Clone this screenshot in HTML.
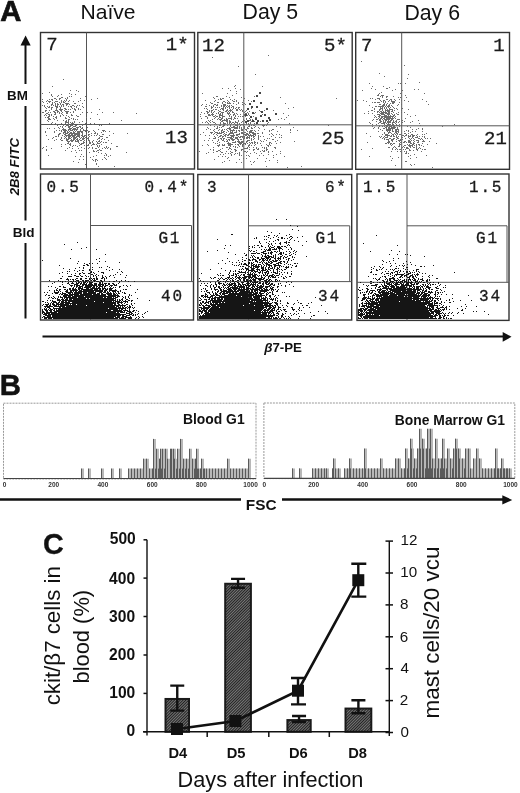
<!DOCTYPE html>
<html><head><meta charset="utf-8"><title>Figure</title>
<style>html,body{margin:0;padding:0;background:#fff;overflow:hidden;width:520px;height:793px;} svg{display:block;}</style></head>
<body><svg width="520" height="793" viewBox="0 0 520 793">
<rect width="520" height="793" fill="#fff"/>
<rect x="40.5" y="32.5" width="154.0" height="136.5" fill="none" stroke="#333" stroke-width="1.4"/>
<rect x="197.8" y="32.5" width="154.4" height="136.7" fill="none" stroke="#333" stroke-width="1.4"/>
<rect x="355.7" y="32.5" width="153.8" height="136.8" fill="none" stroke="#333" stroke-width="1.4"/>
<rect x="40.5" y="174.0" width="153.0" height="146.0" fill="none" stroke="#333" stroke-width="1.4"/>
<rect x="197.8" y="174.5" width="153.9" height="145.5" fill="none" stroke="#333" stroke-width="1.4"/>
<rect x="357.0" y="174.0" width="152.0" height="146.4" fill="none" stroke="#333" stroke-width="1.4"/>
<path d="M86.5 32.5V169.0M40.5 124.5H194.5" stroke="#555" stroke-width="1" fill="none"/>
<path d="M243.8 32.5V169.2M197.8 124.8H352.2" stroke="#555" stroke-width="1" fill="none"/>
<path d="M401.7 32.5V169.3M355.7 125.8H509.5" stroke="#555" stroke-width="1" fill="none"/>
<path d="M90.5 174.0V320.0M90.5 225.5H191.5V281.6M40.5 281.6H193.5" stroke="#555" stroke-width="1" fill="none"/>
<path d="M248.5 174.5V320.0M248.5 225.8H349.7V281.6M197.8 281.6H351.7" stroke="#555" stroke-width="1" fill="none"/>
<path d="M407.0 174.0V320.4M407.0 225.8H507.0V282.3M357.0 282.3H509.0" stroke="#555" stroke-width="1" fill="none"/>
<path d="M63 79h1v1h-1zM52 86h1v1h-1zM70 90h1v1h-1zM76 90h1v1h-1zM78 91h1v1h-1zM49 92h1v1h-1zM42 93h1v1h-1zM69 93h1v1h-1zM51 94h1v1h-1zM61 94h1v1h-1zM71 94h1v1h-1zM75 94h1v1h-1zM51 95h1v1h-1zM58 95h1v1h-1zM52 96h1v1h-1zM57 96h1v1h-1zM69 96h1v1h-1zM71 96h1v1h-1zM85 96h1v1h-1zM61 97h2v1h-2zM67 97h1v1h-1zM54 98h2v1h-2zM59 98h2v1h-2zM65 98h1v1h-1zM67 98h1v1h-1zM80 98h1v1h-1zM97 98h1v1h-1zM42 99h1v1h-1zM49 99h1v1h-1zM51 99h2v1h-2zM56 99h1v1h-1zM59 99h1v1h-1zM66 99h1v1h-1zM91 99h1v1h-1zM47 100h1v1h-1zM52 100h1v1h-1zM61 100h1v1h-1zM64 100h1v1h-1zM66 100h1v1h-1zM69 100h1v1h-1zM80 100h1v1h-1zM84 100h1v1h-1zM42 101h1v1h-1zM46 101h1v1h-1zM48 101h3v1h-3zM55 101h3v1h-3zM61 101h1v1h-1zM63 101h1v1h-1zM65 101h1v1h-1zM68 101h1v1h-1zM73 101h1v1h-1zM78 101h1v1h-1zM43 102h1v1h-1zM49 102h1v1h-1zM52 102h1v1h-1zM54 102h1v1h-1zM59 102h1v1h-1zM61 102h1v1h-1zM63 102h2v1h-2zM47 103h1v1h-1zM52 103h1v1h-1zM55 103h1v1h-1zM57 103h1v1h-1zM60 103h1v1h-1zM65 103h4v1h-4zM74 103h2v1h-2zM82 103h1v1h-1zM51 104h2v1h-2zM55 104h1v1h-1zM57 104h2v1h-2zM60 104h1v1h-1zM62 104h2v1h-2zM66 104h2v1h-2zM69 104h1v1h-1zM42 105h1v1h-1zM44 105h1v1h-1zM51 105h1v1h-1zM53 105h1v1h-1zM55 105h1v1h-1zM57 105h1v1h-1zM61 105h1v1h-1zM63 105h1v1h-1zM66 105h1v1h-1zM72 105h2v1h-2zM77 105h1v1h-1zM79 105h1v1h-1zM44 106h1v1h-1zM47 106h1v1h-1zM49 106h1v1h-1zM55 106h3v1h-3zM59 106h1v1h-1zM61 106h1v1h-1zM63 106h1v1h-1zM68 106h1v1h-1zM70 106h2v1h-2zM74 106h1v1h-1zM76 106h1v1h-1zM82 106h1v1h-1zM45 107h1v1h-1zM48 107h2v1h-2zM51 107h2v1h-2zM56 107h2v1h-2zM60 107h1v1h-1zM71 107h1v1h-1zM76 107h1v1h-1zM83 107h1v1h-1zM46 108h1v1h-1zM51 108h1v1h-1zM56 108h1v1h-1zM60 108h1v1h-1zM64 108h2v1h-2zM72 108h1v1h-1zM74 108h1v1h-1zM78 108h1v1h-1zM51 109h1v1h-1zM56 109h1v1h-1zM59 109h4v1h-4zM65 109h2v1h-2zM68 109h1v1h-1zM70 109h1v1h-1zM74 109h2v1h-2zM78 109h1v1h-1zM80 109h1v1h-1zM99 109h1v1h-1zM45 110h2v1h-2zM49 110h1v1h-1zM55 110h3v1h-3zM60 110h2v1h-2zM64 110h1v1h-1zM75 110h1v1h-1zM45 111h1v1h-1zM53 111h2v1h-2zM57 111h2v1h-2zM61 111h1v1h-1zM65 111h4v1h-4zM73 111h1v1h-1zM42 112h2v1h-2zM48 112h1v1h-1zM50 112h1v1h-1zM54 112h2v1h-2zM57 112h1v1h-1zM59 112h1v1h-1zM62 112h1v1h-1zM66 112h2v1h-2zM70 112h1v1h-1zM73 112h1v1h-1zM82 112h1v1h-1zM87 112h1v1h-1zM91 112h1v1h-1zM102 112h1v1h-1zM113 112h1v1h-1zM46 113h2v1h-2zM55 113h1v1h-1zM59 113h1v1h-1zM61 113h1v1h-1zM66 113h2v1h-2zM136 113h1v1h-1zM45 114h1v1h-1zM48 114h2v1h-2zM51 114h1v1h-1zM54 114h2v1h-2zM62 114h1v1h-1zM71 114h1v1h-1zM80 114h1v1h-1zM97 114h1v1h-1zM44 115h1v1h-1zM46 115h1v1h-1zM49 115h1v1h-1zM51 115h1v1h-1zM60 115h1v1h-1zM63 115h1v1h-1zM66 115h1v1h-1zM71 115h2v1h-2zM76 115h1v1h-1zM48 116h2v1h-2zM53 116h1v1h-1zM56 116h1v1h-1zM60 116h1v1h-1zM68 116h1v1h-1zM77 116h2v1h-2zM45 117h1v1h-1zM47 117h2v1h-2zM55 117h2v1h-2zM65 117h1v1h-1zM69 117h1v1h-1zM86 117h1v1h-1zM48 118h2v1h-2zM53 118h1v1h-1zM56 118h1v1h-1zM65 118h2v1h-2zM71 118h1v1h-1zM73 118h1v1h-1zM90 118h1v1h-1zM48 119h3v1h-3zM54 119h1v1h-1zM68 119h2v1h-2zM73 119h1v1h-1zM75 119h1v1h-1zM77 119h1v1h-1zM99 119h1v1h-1zM47 120h1v1h-1zM57 120h1v1h-1zM63 120h1v1h-1zM66 120h1v1h-1zM68 120h1v1h-1zM121 120h1v1h-1zM48 121h1v1h-1zM65 121h2v1h-2zM68 121h1v1h-1zM74 121h1v1h-1zM82 121h1v1h-1zM86 121h1v1h-1zM52 122h1v1h-1zM65 122h4v1h-4zM70 122h1v1h-1zM72 122h1v1h-1zM74 122h1v1h-1zM79 122h1v1h-1zM51 123h1v1h-1zM55 123h1v1h-1zM61 123h1v1h-1zM65 123h1v1h-1zM68 123h1v1h-1zM71 123h3v1h-3zM85 123h1v1h-1zM90 123h1v1h-1zM94 123h1v1h-1zM109 123h1v1h-1zM53 124h1v1h-1zM56 124h1v1h-1zM63 124h1v1h-1zM66 124h1v1h-1zM68 124h1v1h-1zM71 124h1v1h-1zM73 124h1v1h-1zM78 124h1v1h-1zM82 124h1v1h-1zM92 124h2v1h-2zM57 125h1v1h-1zM63 125h1v1h-1zM66 125h3v1h-3zM70 125h3v1h-3zM75 125h2v1h-2zM82 125h1v1h-1zM99 125h1v1h-1zM101 125h1v1h-1zM60 126h1v1h-1zM62 126h1v1h-1zM65 126h1v1h-1zM68 126h3v1h-3zM73 126h3v1h-3zM79 126h2v1h-2zM58 127h1v1h-1zM62 127h1v1h-1zM68 127h2v1h-2zM72 127h1v1h-1zM76 127h3v1h-3zM80 127h1v1h-1zM82 127h1v1h-1zM87 127h1v1h-1zM47 128h1v1h-1zM49 128h1v1h-1zM54 128h1v1h-1zM59 128h1v1h-1zM63 128h1v1h-1zM69 128h3v1h-3zM73 128h3v1h-3zM77 128h1v1h-1zM81 128h2v1h-2zM62 129h4v1h-4zM68 129h3v1h-3zM72 129h6v1h-6zM80 129h1v1h-1zM83 129h1v1h-1zM98 129h1v1h-1zM56 130h1v1h-1zM59 130h1v1h-1zM61 130h1v1h-1zM63 130h4v1h-4zM68 130h1v1h-1zM70 130h3v1h-3zM74 130h1v1h-1zM76 130h1v1h-1zM80 130h1v1h-1zM83 130h3v1h-3zM87 130h1v1h-1zM93 130h1v1h-1zM102 130h3v1h-3zM45 131h1v1h-1zM54 131h1v1h-1zM61 131h1v1h-1zM64 131h2v1h-2zM67 131h1v1h-1zM69 131h1v1h-1zM73 131h1v1h-1zM75 131h1v1h-1zM77 131h6v1h-6zM85 131h1v1h-1zM88 131h2v1h-2zM94 131h1v1h-1zM103 131h1v1h-1zM105 131h1v1h-1zM109 131h1v1h-1zM45 132h1v1h-1zM54 132h1v1h-1zM63 132h3v1h-3zM67 132h2v1h-2zM70 132h2v1h-2zM73 132h2v1h-2zM77 132h3v1h-3zM81 132h2v1h-2zM88 132h1v1h-1zM95 132h1v1h-1zM101 132h1v1h-1zM59 133h2v1h-2zM63 133h1v1h-1zM65 133h3v1h-3zM69 133h11v1h-11zM82 133h1v1h-1zM91 133h1v1h-1zM94 133h2v1h-2zM97 133h1v1h-1zM113 133h1v1h-1zM127 133h1v1h-1zM58 134h2v1h-2zM64 134h2v1h-2zM68 134h2v1h-2zM71 134h2v1h-2zM74 134h6v1h-6zM82 134h1v1h-1zM86 134h1v1h-1zM88 134h2v1h-2zM97 134h1v1h-1zM102 134h2v1h-2zM46 135h1v1h-1zM58 135h1v1h-1zM62 135h1v1h-1zM65 135h11v1h-11zM77 135h3v1h-3zM81 135h2v1h-2zM84 135h3v1h-3zM88 135h1v1h-1zM91 135h1v1h-1zM94 135h1v1h-1zM96 135h1v1h-1zM99 135h1v1h-1zM109 135h1v1h-1zM55 136h2v1h-2zM58 136h1v1h-1zM64 136h1v1h-1zM66 136h1v1h-1zM68 136h3v1h-3zM72 136h3v1h-3zM76 136h4v1h-4zM82 136h3v1h-3zM89 136h1v1h-1zM100 136h3v1h-3zM53 137h1v1h-1zM61 137h1v1h-1zM65 137h1v1h-1zM68 137h2v1h-2zM71 137h1v1h-1zM73 137h4v1h-4zM79 137h1v1h-1zM81 137h1v1h-1zM83 137h1v1h-1zM85 137h1v1h-1zM88 137h1v1h-1zM99 137h1v1h-1zM106 137h2v1h-2zM52 138h1v1h-1zM61 138h1v1h-1zM64 138h1v1h-1zM66 138h1v1h-1zM68 138h3v1h-3zM73 138h3v1h-3zM77 138h1v1h-1zM80 138h1v1h-1zM82 138h3v1h-3zM86 138h3v1h-3zM98 138h2v1h-2zM102 138h1v1h-1zM48 139h1v1h-1zM56 139h1v1h-1zM60 139h1v1h-1zM66 139h3v1h-3zM71 139h1v1h-1zM73 139h2v1h-2zM76 139h2v1h-2zM79 139h1v1h-1zM82 139h2v1h-2zM88 139h1v1h-1zM97 139h1v1h-1zM101 139h1v1h-1zM104 139h1v1h-1zM54 140h1v1h-1zM61 140h2v1h-2zM66 140h2v1h-2zM70 140h4v1h-4zM75 140h1v1h-1zM77 140h2v1h-2zM80 140h2v1h-2zM84 140h1v1h-1zM88 140h2v1h-2zM93 140h1v1h-1zM99 140h1v1h-1zM108 140h1v1h-1zM67 141h3v1h-3zM71 141h2v1h-2zM75 141h4v1h-4zM83 141h1v1h-1zM89 141h1v1h-1zM92 141h1v1h-1zM96 141h1v1h-1zM98 141h2v1h-2zM101 141h1v1h-1zM68 142h1v1h-1zM78 142h1v1h-1zM83 142h2v1h-2zM89 142h2v1h-2zM92 142h1v1h-1zM97 142h1v1h-1zM100 142h1v1h-1zM103 142h1v1h-1zM105 142h2v1h-2zM67 143h2v1h-2zM70 143h1v1h-1zM79 143h1v1h-1zM81 143h3v1h-3zM86 143h1v1h-1zM89 143h2v1h-2zM93 143h1v1h-1zM97 143h3v1h-3zM111 143h1v1h-1zM61 144h1v1h-1zM65 144h1v1h-1zM69 144h2v1h-2zM80 144h2v1h-2zM86 144h1v1h-1zM88 144h1v1h-1zM92 144h3v1h-3zM96 144h1v1h-1zM101 144h1v1h-1zM70 145h1v1h-1zM73 145h1v1h-1zM75 145h1v1h-1zM79 145h1v1h-1zM84 145h1v1h-1zM87 145h2v1h-2zM91 145h1v1h-1zM97 145h1v1h-1zM99 145h1v1h-1zM46 146h1v1h-1zM61 146h1v1h-1zM72 146h1v1h-1zM77 146h1v1h-1zM97 146h1v1h-1zM99 146h1v1h-1zM106 146h1v1h-1zM116 146h2v1h-2zM43 147h1v1h-1zM69 147h1v1h-1zM81 147h1v1h-1zM89 147h1v1h-1zM92 147h1v1h-1zM98 147h1v1h-1zM104 147h1v1h-1zM106 147h1v1h-1zM108 147h1v1h-1zM42 148h1v1h-1zM51 148h1v1h-1zM67 148h1v1h-1zM72 148h1v1h-1zM78 148h1v1h-1zM84 148h1v1h-1zM88 148h1v1h-1zM92 148h1v1h-1zM95 148h2v1h-2zM102 148h1v1h-1zM105 148h1v1h-1zM107 148h1v1h-1zM110 148h1v1h-1zM46 149h1v1h-1zM99 149h1v1h-1zM110 149h1v1h-1zM46 150h1v1h-1zM65 150h1v1h-1zM75 150h1v1h-1zM79 150h1v1h-1zM81 150h1v1h-1zM93 150h1v1h-1zM97 150h2v1h-2zM100 150h2v1h-2zM71 151h1v1h-1zM93 151h2v1h-2zM96 151h1v1h-1zM76 152h1v1h-1zM89 152h1v1h-1zM98 152h1v1h-1zM126 152h1v1h-1zM101 153h1v1h-1zM105 153h1v1h-1zM81 154h1v1h-1zM106 154h1v1h-1zM48 155h1v1h-1zM96 155h1v1h-1zM104 155h1v1h-1zM106 155h1v1h-1zM110 155h1v1h-1zM75 156h1v1h-1zM80 156h1v1h-1zM83 156h1v1h-1zM93 156h1v1h-1zM108 156h1v1h-1zM90 157h1v1h-1zM104 157h1v1h-1zM105 158h1v1h-1zM79 159h1v1h-1zM83 159h1v1h-1zM92 159h1v1h-1zM95 159h2v1h-2zM102 159h1v1h-1zM106 159h1v1h-1zM93 160h1v1h-1zM95 160h1v1h-1zM97 160h1v1h-1zM73 161h1v1h-1zM95 161h1v1h-1zM78 162h1v1h-1zM96 163h1v1h-1zM85 164h1v1h-1zM96 164h1v1h-1zM98 166h1v1h-1zM114 166h1v1h-1z" fill="#6b6b6b"/>
<path d="M268 55h1v1h-1zM212 57h1v1h-1zM238 66h1v1h-1zM255 74h1v1h-1zM235 85h1v1h-1zM234 86h1v1h-1zM262 86h1v1h-1zM222 88h1v1h-1zM228 88h1v1h-1zM235 88h1v1h-1zM240 89h1v1h-1zM230 90h1v1h-1zM236 91h1v1h-1zM202 93h1v1h-1zM227 93h1v1h-1zM236 93h1v1h-1zM232 95h1v1h-1zM216 96h2v1h-2zM226 96h1v1h-1zM254 96h1v1h-1zM213 97h1v1h-1zM229 97h1v1h-1zM241 97h1v1h-1zM280 97h1v1h-1zM214 98h1v1h-1zM220 98h1v1h-1zM222 98h2v1h-2zM244 98h1v1h-1zM336 98h1v1h-1zM218 99h1v1h-1zM220 99h2v1h-2zM230 99h1v1h-1zM234 99h1v1h-1zM205 100h1v1h-1zM215 100h1v1h-1zM227 100h1v1h-1zM232 100h1v1h-1zM236 100h1v1h-1zM243 100h1v1h-1zM248 100h1v1h-1zM214 101h1v1h-1zM223 101h2v1h-2zM228 101h1v1h-1zM233 101h2v1h-2zM236 101h1v1h-1zM251 101h1v1h-1zM210 102h1v1h-1zM217 102h2v1h-2zM222 102h1v1h-1zM225 102h1v1h-1zM227 102h1v1h-1zM229 102h1v1h-1zM238 102h1v1h-1zM242 102h1v1h-1zM211 103h2v1h-2zM222 103h1v1h-1zM227 103h4v1h-4zM233 103h1v1h-1zM238 103h1v1h-1zM244 103h1v1h-1zM285 103h1v1h-1zM202 104h1v1h-1zM206 104h1v1h-1zM214 104h2v1h-2zM217 104h1v1h-1zM223 104h3v1h-3zM236 104h1v1h-1zM242 104h1v1h-1zM245 104h1v1h-1zM201 105h1v1h-1zM209 105h1v1h-1zM213 105h1v1h-1zM216 105h2v1h-2zM221 105h1v1h-1zM223 105h3v1h-3zM227 105h1v1h-1zM229 105h1v1h-1zM231 105h1v1h-1zM243 105h1v1h-1zM205 106h2v1h-2zM211 106h1v1h-1zM213 106h1v1h-1zM221 106h1v1h-1zM223 106h2v1h-2zM226 106h1v1h-1zM228 106h2v1h-2zM232 106h2v1h-2zM211 107h2v1h-2zM215 107h1v1h-1zM217 107h1v1h-1zM219 107h1v1h-1zM223 107h1v1h-1zM225 107h1v1h-1zM227 107h1v1h-1zM229 107h1v1h-1zM231 107h1v1h-1zM233 107h1v1h-1zM236 107h1v1h-1zM238 107h2v1h-2zM252 107h1v1h-1zM293 107h1v1h-1zM204 108h1v1h-1zM206 108h1v1h-1zM211 108h1v1h-1zM221 108h3v1h-3zM225 108h1v1h-1zM229 108h1v1h-1zM233 108h1v1h-1zM235 108h1v1h-1zM238 108h1v1h-1zM251 108h1v1h-1zM288 108h1v1h-1zM207 109h1v1h-1zM213 109h1v1h-1zM215 109h2v1h-2zM220 109h1v1h-1zM222 109h2v1h-2zM227 109h1v1h-1zM230 109h1v1h-1zM232 109h1v1h-1zM236 109h2v1h-2zM239 109h1v1h-1zM241 109h1v1h-1zM247 109h2v1h-2zM209 110h1v1h-1zM211 110h2v1h-2zM218 110h1v1h-1zM223 110h1v1h-1zM226 110h2v1h-2zM229 110h3v1h-3zM236 110h2v1h-2zM240 110h1v1h-1zM242 110h1v1h-1zM246 110h1v1h-1zM259 110h1v1h-1zM264 110h1v1h-1zM273 110h1v1h-1zM206 111h2v1h-2zM209 111h1v1h-1zM211 111h1v1h-1zM214 111h1v1h-1zM219 111h2v1h-2zM225 111h2v1h-2zM228 111h1v1h-1zM230 111h1v1h-1zM232 111h1v1h-1zM242 111h1v1h-1zM245 111h1v1h-1zM249 111h1v1h-1zM260 111h1v1h-1zM201 112h1v1h-1zM207 112h2v1h-2zM211 112h1v1h-1zM213 112h1v1h-1zM218 112h1v1h-1zM221 112h3v1h-3zM227 112h1v1h-1zM229 112h1v1h-1zM232 112h2v1h-2zM244 112h1v1h-1zM247 112h1v1h-1zM255 112h1v1h-1zM204 113h1v1h-1zM207 113h1v1h-1zM212 113h1v1h-1zM216 113h1v1h-1zM218 113h1v1h-1zM220 113h1v1h-1zM222 113h1v1h-1zM227 113h3v1h-3zM234 113h1v1h-1zM236 113h1v1h-1zM245 113h2v1h-2zM248 113h1v1h-1zM254 113h1v1h-1zM283 113h1v1h-1zM200 114h1v1h-1zM208 114h2v1h-2zM211 114h3v1h-3zM219 114h2v1h-2zM222 114h1v1h-1zM228 114h1v1h-1zM230 114h1v1h-1zM233 114h2v1h-2zM237 114h1v1h-1zM240 114h1v1h-1zM244 114h1v1h-1zM248 114h1v1h-1zM262 114h1v1h-1zM208 115h3v1h-3zM212 115h1v1h-1zM215 115h1v1h-1zM219 115h4v1h-4zM229 115h1v1h-1zM233 115h1v1h-1zM235 115h1v1h-1zM244 115h1v1h-1zM247 115h1v1h-1zM249 115h1v1h-1zM288 115h1v1h-1zM200 116h1v1h-1zM205 116h2v1h-2zM213 116h2v1h-2zM216 116h2v1h-2zM219 116h1v1h-1zM222 116h3v1h-3zM229 116h1v1h-1zM231 116h1v1h-1zM235 116h1v1h-1zM238 116h1v1h-1zM240 116h1v1h-1zM242 116h2v1h-2zM245 116h1v1h-1zM251 116h1v1h-1zM253 116h1v1h-1zM207 117h1v1h-1zM215 117h1v1h-1zM219 117h2v1h-2zM222 117h1v1h-1zM231 117h1v1h-1zM234 117h1v1h-1zM255 117h2v1h-2zM286 117h1v1h-1zM201 118h1v1h-1zM207 118h1v1h-1zM214 118h1v1h-1zM218 118h1v1h-1zM221 118h2v1h-2zM226 118h1v1h-1zM228 118h4v1h-4zM234 118h2v1h-2zM237 118h1v1h-1zM246 118h1v1h-1zM249 118h1v1h-1zM256 118h1v1h-1zM281 118h1v1h-1zM212 119h1v1h-1zM217 119h1v1h-1zM219 119h3v1h-3zM224 119h1v1h-1zM226 119h2v1h-2zM231 119h1v1h-1zM233 119h1v1h-1zM243 119h1v1h-1zM246 119h1v1h-1zM250 119h1v1h-1zM252 119h1v1h-1zM269 119h1v1h-1zM278 119h1v1h-1zM284 119h1v1h-1zM208 120h1v1h-1zM210 120h1v1h-1zM220 120h1v1h-1zM222 120h6v1h-6zM229 120h1v1h-1zM238 120h1v1h-1zM244 120h1v1h-1zM247 120h1v1h-1zM249 120h2v1h-2zM257 120h1v1h-1zM206 121h1v1h-1zM209 121h1v1h-1zM212 121h1v1h-1zM221 121h2v1h-2zM226 121h2v1h-2zM229 121h2v1h-2zM235 121h1v1h-1zM238 121h1v1h-1zM242 121h1v1h-1zM248 121h1v1h-1zM251 121h1v1h-1zM254 121h1v1h-1zM257 121h1v1h-1zM260 121h1v1h-1zM202 122h1v1h-1zM205 122h1v1h-1zM207 122h1v1h-1zM210 122h1v1h-1zM213 122h2v1h-2zM220 122h1v1h-1zM223 122h1v1h-1zM227 122h1v1h-1zM229 122h2v1h-2zM232 122h2v1h-2zM235 122h3v1h-3zM241 122h1v1h-1zM245 122h1v1h-1zM250 122h1v1h-1zM268 122h1v1h-1zM208 123h1v1h-1zM215 123h1v1h-1zM220 123h1v1h-1zM223 123h3v1h-3zM227 123h1v1h-1zM229 123h1v1h-1zM231 123h1v1h-1zM234 123h1v1h-1zM237 123h1v1h-1zM239 123h1v1h-1zM246 123h1v1h-1zM248 123h1v1h-1zM250 123h1v1h-1zM254 123h1v1h-1zM267 123h1v1h-1zM289 123h1v1h-1zM200 124h1v1h-1zM214 124h1v1h-1zM216 124h1v1h-1zM220 124h1v1h-1zM223 124h2v1h-2zM230 124h1v1h-1zM233 124h1v1h-1zM235 124h1v1h-1zM237 124h1v1h-1zM239 124h1v1h-1zM241 124h2v1h-2zM244 124h1v1h-1zM246 124h1v1h-1zM248 124h2v1h-2zM256 124h1v1h-1zM258 124h1v1h-1zM267 124h1v1h-1zM210 125h1v1h-1zM219 125h2v1h-2zM223 125h2v1h-2zM227 125h1v1h-1zM230 125h1v1h-1zM235 125h3v1h-3zM240 125h1v1h-1zM243 125h1v1h-1zM249 125h1v1h-1zM251 125h1v1h-1zM253 125h2v1h-2zM262 125h3v1h-3zM266 125h1v1h-1zM328 125h1v1h-1zM214 126h1v1h-1zM217 126h1v1h-1zM222 126h2v1h-2zM230 126h1v1h-1zM233 126h2v1h-2zM237 126h1v1h-1zM239 126h1v1h-1zM244 126h1v1h-1zM248 126h2v1h-2zM255 126h1v1h-1zM263 126h1v1h-1zM276 126h1v1h-1zM207 127h1v1h-1zM217 127h1v1h-1zM219 127h1v1h-1zM221 127h1v1h-1zM229 127h1v1h-1zM231 127h7v1h-7zM239 127h1v1h-1zM241 127h1v1h-1zM244 127h1v1h-1zM247 127h1v1h-1zM251 127h1v1h-1zM254 127h1v1h-1zM258 127h1v1h-1zM280 127h1v1h-1zM293 127h1v1h-1zM208 128h1v1h-1zM216 128h2v1h-2zM227 128h4v1h-4zM234 128h4v1h-4zM239 128h1v1h-1zM241 128h1v1h-1zM244 128h1v1h-1zM247 128h2v1h-2zM251 128h2v1h-2zM259 128h1v1h-1zM206 129h1v1h-1zM210 129h1v1h-1zM214 129h1v1h-1zM219 129h1v1h-1zM222 129h1v1h-1zM224 129h1v1h-1zM226 129h1v1h-1zM229 129h2v1h-2zM233 129h1v1h-1zM241 129h2v1h-2zM245 129h2v1h-2zM264 129h1v1h-1zM272 129h2v1h-2zM290 129h1v1h-1zM213 130h1v1h-1zM218 130h1v1h-1zM221 130h2v1h-2zM227 130h1v1h-1zM230 130h5v1h-5zM236 130h1v1h-1zM238 130h2v1h-2zM241 130h2v1h-2zM246 130h1v1h-1zM250 130h3v1h-3zM254 130h1v1h-1zM258 130h1v1h-1zM269 130h1v1h-1zM271 130h1v1h-1zM290 130h1v1h-1zM297 130h1v1h-1zM214 131h1v1h-1zM221 131h1v1h-1zM223 131h2v1h-2zM228 131h1v1h-1zM230 131h1v1h-1zM232 131h1v1h-1zM236 131h1v1h-1zM239 131h1v1h-1zM247 131h1v1h-1zM249 131h3v1h-3zM255 131h1v1h-1zM269 131h1v1h-1zM277 131h1v1h-1zM203 132h1v1h-1zM210 132h3v1h-3zM215 132h3v1h-3zM219 132h1v1h-1zM221 132h3v1h-3zM226 132h1v1h-1zM230 132h3v1h-3zM234 132h3v1h-3zM241 132h2v1h-2zM244 132h2v1h-2zM249 132h5v1h-5zM262 132h1v1h-1zM290 132h1v1h-1zM211 133h1v1h-1zM214 133h1v1h-1zM217 133h5v1h-5zM224 133h1v1h-1zM229 133h5v1h-5zM239 133h1v1h-1zM241 133h3v1h-3zM246 133h2v1h-2zM249 133h1v1h-1zM252 133h4v1h-4zM257 133h2v1h-2zM262 133h1v1h-1zM271 133h1v1h-1zM200 134h1v1h-1zM213 134h1v1h-1zM216 134h1v1h-1zM223 134h1v1h-1zM225 134h2v1h-2zM228 134h2v1h-2zM233 134h1v1h-1zM236 134h4v1h-4zM243 134h6v1h-6zM250 134h1v1h-1zM253 134h3v1h-3zM269 134h1v1h-1zM272 134h1v1h-1zM276 134h1v1h-1zM279 134h1v1h-1zM205 135h1v1h-1zM209 135h1v1h-1zM217 135h1v1h-1zM220 135h2v1h-2zM224 135h2v1h-2zM227 135h2v1h-2zM230 135h5v1h-5zM236 135h2v1h-2zM245 135h2v1h-2zM248 135h6v1h-6zM255 135h1v1h-1zM258 135h1v1h-1zM273 135h1v1h-1zM281 135h1v1h-1zM214 136h1v1h-1zM219 136h2v1h-2zM222 136h2v1h-2zM225 136h1v1h-1zM231 136h3v1h-3zM238 136h1v1h-1zM240 136h5v1h-5zM247 136h1v1h-1zM249 136h1v1h-1zM251 136h1v1h-1zM253 136h2v1h-2zM258 136h1v1h-1zM260 136h1v1h-1zM263 136h1v1h-1zM271 136h1v1h-1zM215 137h1v1h-1zM218 137h1v1h-1zM222 137h1v1h-1zM227 137h5v1h-5zM233 137h1v1h-1zM235 137h3v1h-3zM239 137h2v1h-2zM242 137h1v1h-1zM244 137h1v1h-1zM246 137h4v1h-4zM253 137h1v1h-1zM258 137h1v1h-1zM275 137h1v1h-1zM279 137h1v1h-1zM281 137h1v1h-1zM209 138h1v1h-1zM213 138h3v1h-3zM220 138h2v1h-2zM223 138h2v1h-2zM230 138h3v1h-3zM235 138h3v1h-3zM243 138h2v1h-2zM246 138h2v1h-2zM249 138h1v1h-1zM251 138h1v1h-1zM254 138h1v1h-1zM258 138h1v1h-1zM267 138h1v1h-1zM269 138h1v1h-1zM218 139h1v1h-1zM221 139h1v1h-1zM223 139h1v1h-1zM226 139h1v1h-1zM228 139h2v1h-2zM231 139h4v1h-4zM237 139h2v1h-2zM240 139h2v1h-2zM243 139h1v1h-1zM251 139h1v1h-1zM253 139h1v1h-1zM258 139h1v1h-1zM264 139h1v1h-1zM272 139h2v1h-2zM204 140h1v1h-1zM208 140h1v1h-1zM212 140h1v1h-1zM218 140h1v1h-1zM222 140h2v1h-2zM227 140h1v1h-1zM229 140h1v1h-1zM232 140h2v1h-2zM238 140h1v1h-1zM247 140h3v1h-3zM251 140h1v1h-1zM260 140h1v1h-1zM266 140h1v1h-1zM277 140h1v1h-1zM217 141h1v1h-1zM224 141h1v1h-1zM226 141h2v1h-2zM235 141h1v1h-1zM237 141h3v1h-3zM241 141h3v1h-3zM246 141h2v1h-2zM254 141h1v1h-1zM261 141h1v1h-1zM263 141h1v1h-1zM275 141h1v1h-1zM294 141h1v1h-1zM213 142h1v1h-1zM219 142h1v1h-1zM228 142h1v1h-1zM232 142h4v1h-4zM238 142h5v1h-5zM246 142h1v1h-1zM249 142h1v1h-1zM251 142h2v1h-2zM254 142h2v1h-2zM257 142h1v1h-1zM269 142h2v1h-2zM280 142h1v1h-1zM215 143h1v1h-1zM217 143h1v1h-1zM227 143h4v1h-4zM239 143h3v1h-3zM243 143h3v1h-3zM247 143h1v1h-1zM250 143h1v1h-1zM252 143h1v1h-1zM254 143h1v1h-1zM257 143h1v1h-1zM260 143h1v1h-1zM269 143h1v1h-1zM271 143h1v1h-1zM276 143h1v1h-1zM207 144h1v1h-1zM219 144h1v1h-1zM222 144h1v1h-1zM224 144h1v1h-1zM228 144h5v1h-5zM235 144h1v1h-1zM237 144h2v1h-2zM240 144h1v1h-1zM242 144h2v1h-2zM245 144h1v1h-1zM249 144h1v1h-1zM255 144h1v1h-1zM266 144h1v1h-1zM269 144h1v1h-1zM202 145h1v1h-1zM208 145h1v1h-1zM217 145h3v1h-3zM222 145h3v1h-3zM228 145h3v1h-3zM238 145h1v1h-1zM242 145h1v1h-1zM248 145h2v1h-2zM251 145h1v1h-1zM254 145h1v1h-1zM261 145h1v1h-1zM267 145h2v1h-2zM270 145h1v1h-1zM218 146h1v1h-1zM230 146h1v1h-1zM233 146h1v1h-1zM235 146h1v1h-1zM239 146h1v1h-1zM242 146h1v1h-1zM248 146h1v1h-1zM268 146h1v1h-1zM213 147h1v1h-1zM226 147h2v1h-2zM229 147h1v1h-1zM235 147h1v1h-1zM237 147h1v1h-1zM247 147h1v1h-1zM249 147h1v1h-1zM253 147h1v1h-1zM256 147h1v1h-1zM262 147h1v1h-1zM264 147h1v1h-1zM266 147h1v1h-1zM274 147h2v1h-2zM222 148h1v1h-1zM229 148h2v1h-2zM244 148h4v1h-4zM256 148h1v1h-1zM258 148h1v1h-1zM264 148h1v1h-1zM266 148h1v1h-1zM275 148h1v1h-1zM210 149h1v1h-1zM213 149h1v1h-1zM220 149h1v1h-1zM228 149h1v1h-1zM231 149h1v1h-1zM234 149h2v1h-2zM241 149h2v1h-2zM249 149h1v1h-1zM253 149h2v1h-2zM257 149h2v1h-2zM266 149h2v1h-2zM213 150h1v1h-1zM218 150h2v1h-2zM235 150h2v1h-2zM241 150h1v1h-1zM253 150h1v1h-1zM262 150h1v1h-1zM264 150h1v1h-1zM266 150h1v1h-1zM199 151h1v1h-1zM216 151h2v1h-2zM220 151h1v1h-1zM226 151h1v1h-1zM230 151h1v1h-1zM235 151h1v1h-1zM244 151h2v1h-2zM247 151h1v1h-1zM260 151h1v1h-1zM263 151h2v1h-2zM268 151h1v1h-1zM272 151h1v1h-1zM280 151h1v1h-1zM208 152h1v1h-1zM213 152h1v1h-1zM221 152h2v1h-2zM231 152h2v1h-2zM239 152h1v1h-1zM246 152h1v1h-1zM254 152h1v1h-1zM268 152h1v1h-1zM206 153h1v1h-1zM225 153h1v1h-1zM228 153h1v1h-1zM230 153h1v1h-1zM235 153h1v1h-1zM237 153h1v1h-1zM239 153h1v1h-1zM250 153h1v1h-1zM256 153h1v1h-1zM261 153h1v1h-1zM280 153h1v1h-1zM220 154h1v1h-1zM223 154h1v1h-1zM231 154h1v1h-1zM234 154h1v1h-1zM239 154h1v1h-1zM268 154h1v1h-1zM276 154h1v1h-1zM231 155h1v1h-1zM239 155h1v1h-1zM241 155h1v1h-1zM246 155h1v1h-1zM248 155h1v1h-1zM259 155h1v1h-1zM263 155h1v1h-1zM273 155h1v1h-1zM218 156h1v1h-1zM222 156h1v1h-1zM225 156h1v1h-1zM249 156h1v1h-1zM284 156h1v1h-1zM228 157h1v1h-1zM273 157h1v1h-1zM227 158h1v1h-1zM243 158h1v1h-1zM246 158h1v1h-1zM257 158h1v1h-1zM266 158h1v1h-1zM214 159h1v1h-1zM239 159h1v1h-1zM229 160h1v1h-1zM269 160h1v1h-1zM277 160h1v1h-1zM224 161h1v1h-1zM250 161h1v1h-1zM254 161h1v1h-1zM265 161h1v1h-1zM222 162h1v1h-1zM236 162h1v1h-1zM241 162h1v1h-1zM253 162h1v1h-1zM277 162h1v1h-1zM251 164h1v1h-1zM266 166h1v1h-1zM301 166h1v1h-1zM287 167h1v1h-1z" fill="#6b6b6b"/>
<path d="M361 61h1v1h-1zM404 65h1v1h-1zM379 73h1v1h-1zM408 74h1v1h-1zM384 76h1v1h-1zM407 78h1v1h-1zM419 82h1v1h-1zM369 83h1v1h-1zM398 83h1v1h-1zM400 83h1v1h-1zM405 83h1v1h-1zM372 86h1v1h-1zM383 86h1v1h-1zM389 87h1v1h-1zM371 88h1v1h-1zM386 88h2v1h-2zM375 89h1v1h-1zM395 89h1v1h-1zM414 89h1v1h-1zM418 89h1v1h-1zM362 90h1v1h-1zM392 90h1v1h-1zM402 90h1v1h-1zM381 92h1v1h-1zM379 93h1v1h-1zM400 93h1v1h-1zM424 93h1v1h-1zM378 94h1v1h-1zM377 95h2v1h-2zM381 95h3v1h-3zM401 95h1v1h-1zM405 95h1v1h-1zM380 96h1v1h-1zM382 96h1v1h-1zM386 96h2v1h-2zM393 96h1v1h-1zM382 97h1v1h-1zM386 97h1v1h-1zM398 97h1v1h-1zM400 97h1v1h-1zM406 97h1v1h-1zM370 98h1v1h-1zM372 98h1v1h-1zM377 98h3v1h-3zM375 99h1v1h-1zM379 99h1v1h-1zM386 99h2v1h-2zM390 99h2v1h-2zM394 99h1v1h-1zM399 99h1v1h-1zM422 99h1v1h-1zM357 100h1v1h-1zM363 100h1v1h-1zM380 100h1v1h-1zM383 100h2v1h-2zM389 100h1v1h-1zM391 100h1v1h-1zM395 100h1v1h-1zM401 100h1v1h-1zM404 100h1v1h-1zM366 101h1v1h-1zM381 101h1v1h-1zM383 101h1v1h-1zM385 101h1v1h-1zM388 101h1v1h-1zM391 101h4v1h-4zM408 101h1v1h-1zM426 101h1v1h-1zM372 102h1v1h-1zM374 102h2v1h-2zM377 102h3v1h-3zM383 102h1v1h-1zM385 102h1v1h-1zM392 102h3v1h-3zM399 102h1v1h-1zM384 103h1v1h-1zM387 103h1v1h-1zM390 103h1v1h-1zM392 103h2v1h-2zM379 104h2v1h-2zM383 104h2v1h-2zM386 104h1v1h-1zM389 104h1v1h-1zM398 104h1v1h-1zM401 104h1v1h-1zM428 104h1v1h-1zM369 105h1v1h-1zM382 105h3v1h-3zM386 105h1v1h-1zM388 105h2v1h-2zM391 105h1v1h-1zM397 105h1v1h-1zM375 106h2v1h-2zM378 106h6v1h-6zM385 106h1v1h-1zM387 106h3v1h-3zM392 106h1v1h-1zM372 107h1v1h-1zM380 107h1v1h-1zM382 107h1v1h-1zM384 107h1v1h-1zM386 107h1v1h-1zM388 107h1v1h-1zM390 107h1v1h-1zM393 107h1v1h-1zM374 108h1v1h-1zM380 108h3v1h-3zM384 108h1v1h-1zM386 108h1v1h-1zM389 108h1v1h-1zM394 108h1v1h-1zM396 108h1v1h-1zM402 108h1v1h-1zM374 109h1v1h-1zM379 109h2v1h-2zM382 109h1v1h-1zM385 109h1v1h-1zM387 109h1v1h-1zM389 109h4v1h-4zM397 109h1v1h-1zM408 109h1v1h-1zM371 110h2v1h-2zM379 110h1v1h-1zM382 110h1v1h-1zM385 110h5v1h-5zM392 110h1v1h-1zM394 110h1v1h-1zM401 110h1v1h-1zM368 111h1v1h-1zM374 111h1v1h-1zM377 111h2v1h-2zM380 111h2v1h-2zM383 111h1v1h-1zM385 111h1v1h-1zM387 111h3v1h-3zM391 111h2v1h-2zM377 112h1v1h-1zM379 112h1v1h-1zM381 112h6v1h-6zM388 112h2v1h-2zM393 112h1v1h-1zM398 112h1v1h-1zM401 112h1v1h-1zM404 112h1v1h-1zM364 113h1v1h-1zM368 113h1v1h-1zM372 113h1v1h-1zM380 113h4v1h-4zM385 113h5v1h-5zM391 113h1v1h-1zM396 113h1v1h-1zM377 114h3v1h-3zM381 114h4v1h-4zM387 114h3v1h-3zM392 114h1v1h-1zM394 114h1v1h-1zM397 114h2v1h-2zM407 114h1v1h-1zM374 115h1v1h-1zM379 115h2v1h-2zM384 115h3v1h-3zM388 115h1v1h-1zM390 115h1v1h-1zM393 115h2v1h-2zM415 115h1v1h-1zM375 116h1v1h-1zM378 116h2v1h-2zM381 116h13v1h-13zM395 116h1v1h-1zM410 116h1v1h-1zM374 117h1v1h-1zM376 117h1v1h-1zM379 117h1v1h-1zM381 117h2v1h-2zM384 117h7v1h-7zM392 117h1v1h-1zM394 117h1v1h-1zM378 118h1v1h-1zM380 118h2v1h-2zM383 118h2v1h-2zM386 118h8v1h-8zM395 118h1v1h-1zM405 118h1v1h-1zM373 119h1v1h-1zM376 119h2v1h-2zM379 119h2v1h-2zM382 119h1v1h-1zM384 119h6v1h-6zM391 119h2v1h-2zM397 119h3v1h-3zM372 120h1v1h-1zM379 120h2v1h-2zM383 120h1v1h-1zM385 120h2v1h-2zM388 120h1v1h-1zM390 120h2v1h-2zM393 120h1v1h-1zM396 120h1v1h-1zM402 120h1v1h-1zM418 120h1v1h-1zM376 121h1v1h-1zM380 121h2v1h-2zM383 121h1v1h-1zM385 121h1v1h-1zM387 121h4v1h-4zM393 121h1v1h-1zM395 121h2v1h-2zM399 121h1v1h-1zM404 121h1v1h-1zM412 121h1v1h-1zM369 122h1v1h-1zM379 122h2v1h-2zM383 122h3v1h-3zM387 122h4v1h-4zM392 122h3v1h-3zM396 122h1v1h-1zM398 122h1v1h-1zM402 122h1v1h-1zM410 122h1v1h-1zM370 123h1v1h-1zM378 123h1v1h-1zM381 123h4v1h-4zM386 123h1v1h-1zM388 123h1v1h-1zM392 123h1v1h-1zM395 123h1v1h-1zM419 123h1v1h-1zM372 124h1v1h-1zM376 124h1v1h-1zM384 124h1v1h-1zM387 124h4v1h-4zM392 124h2v1h-2zM396 124h1v1h-1zM399 124h1v1h-1zM454 124h1v1h-1zM379 125h1v1h-1zM385 125h5v1h-5zM391 125h4v1h-4zM396 125h3v1h-3zM420 125h1v1h-1zM372 126h1v1h-1zM379 126h1v1h-1zM382 126h1v1h-1zM384 126h1v1h-1zM386 126h2v1h-2zM389 126h3v1h-3zM393 126h2v1h-2zM399 126h1v1h-1zM407 126h1v1h-1zM442 126h1v1h-1zM374 127h1v1h-1zM378 127h1v1h-1zM385 127h2v1h-2zM388 127h2v1h-2zM391 127h5v1h-5zM397 127h1v1h-1zM401 127h1v1h-1zM410 127h1v1h-1zM373 128h1v1h-1zM378 128h1v1h-1zM383 128h2v1h-2zM386 128h1v1h-1zM388 128h7v1h-7zM397 128h1v1h-1zM418 128h1v1h-1zM422 128h1v1h-1zM380 129h1v1h-1zM386 129h5v1h-5zM392 129h1v1h-1zM395 129h4v1h-4zM412 129h1v1h-1zM416 129h1v1h-1zM422 129h1v1h-1zM382 130h1v1h-1zM386 130h5v1h-5zM392 130h1v1h-1zM395 130h2v1h-2zM398 130h1v1h-1zM406 130h1v1h-1zM408 130h1v1h-1zM378 131h1v1h-1zM387 131h1v1h-1zM389 131h1v1h-1zM392 131h2v1h-2zM395 131h4v1h-4zM404 131h1v1h-1zM408 131h1v1h-1zM412 131h1v1h-1zM415 131h1v1h-1zM422 131h1v1h-1zM384 132h1v1h-1zM388 132h3v1h-3zM395 132h2v1h-2zM398 132h1v1h-1zM410 132h1v1h-1zM366 133h1v1h-1zM384 133h1v1h-1zM388 133h1v1h-1zM391 133h1v1h-1zM394 133h1v1h-1zM396 133h2v1h-2zM404 133h2v1h-2zM408 133h1v1h-1zM426 133h1v1h-1zM382 134h1v1h-1zM385 134h3v1h-3zM392 134h2v1h-2zM395 134h1v1h-1zM397 134h1v1h-1zM399 134h2v1h-2zM406 134h1v1h-1zM411 134h2v1h-2zM417 134h1v1h-1zM422 134h1v1h-1zM424 134h1v1h-1zM385 135h5v1h-5zM391 135h1v1h-1zM393 135h1v1h-1zM396 135h1v1h-1zM402 135h2v1h-2zM405 135h2v1h-2zM408 135h1v1h-1zM410 135h1v1h-1zM412 135h3v1h-3zM416 135h1v1h-1zM370 136h1v1h-1zM379 136h1v1h-1zM381 136h1v1h-1zM384 136h1v1h-1zM387 136h1v1h-1zM390 136h2v1h-2zM393 136h2v1h-2zM396 136h1v1h-1zM398 136h1v1h-1zM401 136h1v1h-1zM404 136h1v1h-1zM408 136h3v1h-3zM412 136h2v1h-2zM417 136h1v1h-1zM419 136h1v1h-1zM422 136h1v1h-1zM424 136h1v1h-1zM380 137h1v1h-1zM383 137h1v1h-1zM385 137h3v1h-3zM396 137h2v1h-2zM401 137h2v1h-2zM408 137h1v1h-1zM412 137h1v1h-1zM415 137h3v1h-3zM424 137h1v1h-1zM382 138h1v1h-1zM384 138h1v1h-1zM389 138h2v1h-2zM393 138h2v1h-2zM397 138h2v1h-2zM405 138h1v1h-1zM409 138h1v1h-1zM411 138h1v1h-1zM413 138h1v1h-1zM418 138h2v1h-2zM421 138h1v1h-1zM425 138h1v1h-1zM427 138h1v1h-1zM430 138h1v1h-1zM384 139h1v1h-1zM386 139h3v1h-3zM391 139h3v1h-3zM396 139h1v1h-1zM400 139h1v1h-1zM402 139h1v1h-1zM410 139h1v1h-1zM414 139h1v1h-1zM420 139h1v1h-1zM422 139h1v1h-1zM388 140h1v1h-1zM391 140h2v1h-2zM398 140h3v1h-3zM408 140h2v1h-2zM411 140h1v1h-1zM413 140h1v1h-1zM416 140h3v1h-3zM423 140h1v1h-1zM388 141h2v1h-2zM392 141h1v1h-1zM396 141h1v1h-1zM399 141h1v1h-1zM404 141h2v1h-2zM408 141h3v1h-3zM414 141h1v1h-1zM418 141h1v1h-1zM422 141h3v1h-3zM429 141h1v1h-1zM367 142h1v1h-1zM387 142h3v1h-3zM400 142h2v1h-2zM403 142h2v1h-2zM406 142h1v1h-1zM408 142h3v1h-3zM413 142h1v1h-1zM417 142h2v1h-2zM385 143h2v1h-2zM388 143h1v1h-1zM390 143h2v1h-2zM393 143h2v1h-2zM399 143h1v1h-1zM410 143h2v1h-2zM413 143h2v1h-2zM422 143h1v1h-1zM436 143h1v1h-1zM390 144h1v1h-1zM392 144h1v1h-1zM399 144h2v1h-2zM407 144h1v1h-1zM409 144h1v1h-1zM412 144h2v1h-2zM416 144h1v1h-1zM418 144h2v1h-2zM427 144h1v1h-1zM391 145h1v1h-1zM399 145h1v1h-1zM404 145h2v1h-2zM408 145h5v1h-5zM414 145h1v1h-1zM416 145h1v1h-1zM419 145h1v1h-1zM421 145h1v1h-1zM394 146h1v1h-1zM398 146h2v1h-2zM403 146h1v1h-1zM409 146h2v1h-2zM412 146h1v1h-1zM416 146h1v1h-1zM423 146h1v1h-1zM388 147h2v1h-2zM393 147h1v1h-1zM395 147h1v1h-1zM402 147h1v1h-1zM404 147h1v1h-1zM406 147h2v1h-2zM410 147h1v1h-1zM413 147h2v1h-2zM416 147h1v1h-1zM419 147h1v1h-1zM372 148h1v1h-1zM392 148h1v1h-1zM396 148h1v1h-1zM401 148h1v1h-1zM406 148h3v1h-3zM416 148h1v1h-1zM418 148h1v1h-1zM420 148h1v1h-1zM361 149h1v1h-1zM392 149h1v1h-1zM395 149h1v1h-1zM397 149h1v1h-1zM399 149h2v1h-2zM403 149h1v1h-1zM405 149h1v1h-1zM409 149h1v1h-1zM416 149h2v1h-2zM422 149h1v1h-1zM424 149h2v1h-2zM409 150h2v1h-2zM413 150h1v1h-1zM417 150h1v1h-1zM391 151h1v1h-1zM397 151h1v1h-1zM400 151h1v1h-1zM404 151h1v1h-1zM406 151h1v1h-1zM421 151h1v1h-1zM401 152h1v1h-1zM406 152h1v1h-1zM405 153h2v1h-2zM408 153h1v1h-1zM414 154h1v1h-1zM410 155h1v1h-1zM426 155h1v1h-1zM369 156h1v1h-1zM390 156h1v1h-1zM408 156h1v1h-1zM398 157h1v1h-1zM416 157h1v1h-1zM392 158h1v1h-1zM410 158h1v1h-1zM391 160h1v1h-1zM405 161h2v1h-2zM410 164h1v1h-1zM414 164h1v1h-1zM395 165h1v1h-1zM411 165h1v1h-1zM432 167h1v1h-1z" fill="#6b6b6b"/>
<path d="M259 92h2v2h-2zM256 95h2v2h-2zM253 100h2v2h-2zM260 102h2v2h-2zM249 103h2v2h-2zM251 106h2v2h-2zM256 106h2v2h-2zM247 108h2v2h-2zM252 112h2v2h-2zM261 111h2v2h-2zM266 108h2v2h-2zM275 113h2v2h-2zM245 114h2v2h-2zM250 116h2v2h-2zM255 118h2v2h-2zM260 115h2v2h-2zM264 114h2v2h-2zM268 117h2v2h-2zM247 120h2v2h-2zM252 120h2v2h-2zM257 120h2v2h-2zM262 120h2v2h-2zM266 120h2v2h-2zM269 119h2v2h-2zM245 121h2v2h-2zM256 122h2v2h-2z" fill="#444"/>
<path d="M77 242h1v1h-1zM64 244h1v1h-1zM86 247h1v1h-1zM81 248h1v1h-1zM71 249h1v1h-1zM96 249h1v1h-1zM105 254h1v1h-1zM70 258h1v1h-1zM99 258h1v1h-1zM96 259h1v1h-1zM42 260h1v1h-1zM78 261h1v1h-1zM99 261h1v1h-1zM105 261h1v1h-1zM119 262h1v1h-1zM77 263h1v1h-1zM84 263h1v1h-1zM89 263h1v1h-1zM92 263h1v1h-1zM97 263h1v1h-1zM86 264h2v1h-2zM59 265h1v1h-1zM83 265h2v1h-2zM87 265h2v1h-2zM107 266h1v1h-1zM79 267h1v1h-1zM83 267h1v1h-1zM92 267h1v1h-1zM99 267h1v1h-1zM101 267h1v1h-1zM109 267h1v1h-1zM63 268h1v1h-1zM75 268h1v1h-1zM83 268h1v1h-1zM69 269h1v1h-1zM89 269h1v1h-1zM92 269h1v1h-1zM106 269h1v1h-1zM112 269h1v1h-1zM119 269h1v1h-1zM74 270h1v1h-1zM79 270h1v1h-1zM82 270h2v1h-2zM89 270h1v1h-1zM109 270h1v1h-1zM67 271h1v1h-1zM69 271h1v1h-1zM77 271h1v1h-1zM91 271h1v1h-1zM98 271h1v1h-1zM121 271h1v1h-1zM62 272h1v1h-1zM82 272h1v1h-1zM90 272h2v1h-2zM93 272h1v1h-1zM101 272h3v1h-3zM117 272h1v1h-1zM122 272h1v1h-1zM59 273h1v1h-1zM67 273h1v1h-1zM75 273h1v1h-1zM79 273h2v1h-2zM83 273h2v1h-2zM88 273h2v1h-2zM94 273h1v1h-1zM103 273h1v1h-1zM71 274h1v1h-1zM79 274h1v1h-1zM91 274h2v1h-2zM96 274h1v1h-1zM115 274h1v1h-1zM120 274h1v1h-1zM74 275h2v1h-2zM80 275h1v1h-1zM85 275h1v1h-1zM93 275h1v1h-1zM95 275h1v1h-1zM98 275h1v1h-1zM102 275h1v1h-1zM110 275h1v1h-1zM113 275h1v1h-1zM126 275h1v1h-1zM62 276h1v1h-1zM68 276h4v1h-4zM76 276h3v1h-3zM81 276h2v1h-2zM86 276h1v1h-1zM88 276h1v1h-1zM93 276h1v1h-1zM96 276h1v1h-1zM102 276h1v1h-1zM105 276h1v1h-1zM109 276h1v1h-1zM90 277h1v1h-1zM96 277h1v1h-1zM102 277h2v1h-2zM106 277h1v1h-1zM114 277h1v1h-1zM125 277h1v1h-1zM60 278h2v1h-2zM67 278h1v1h-1zM76 278h2v1h-2zM80 278h2v1h-2zM85 278h2v1h-2zM89 278h1v1h-1zM91 278h1v1h-1zM93 278h2v1h-2zM96 278h2v1h-2zM101 278h2v1h-2zM104 278h1v1h-1zM106 278h1v1h-1zM66 279h3v1h-3zM70 279h1v1h-1zM72 279h2v1h-2zM75 279h1v1h-1zM80 279h2v1h-2zM89 279h1v1h-1zM92 279h1v1h-1zM94 279h1v1h-1zM96 279h2v1h-2zM104 279h1v1h-1zM49 280h1v1h-1zM58 280h1v1h-1zM68 280h1v1h-1zM73 280h1v1h-1zM76 280h3v1h-3zM82 280h2v1h-2zM85 280h4v1h-4zM91 280h1v1h-1zM93 280h3v1h-3zM100 280h2v1h-2zM104 280h1v1h-1zM116 280h1v1h-1zM121 280h1v1h-1zM125 280h1v1h-1zM60 281h1v1h-1zM62 281h1v1h-1zM65 281h1v1h-1zM70 281h2v1h-2zM73 281h1v1h-1zM75 281h1v1h-1zM78 281h1v1h-1zM80 281h1v1h-1zM83 281h1v1h-1zM85 281h2v1h-2zM89 281h1v1h-1zM94 281h1v1h-1zM96 281h3v1h-3zM101 281h2v1h-2zM109 281h1v1h-1zM113 281h2v1h-2zM119 281h1v1h-1zM128 281h1v1h-1zM134 281h1v1h-1zM54 282h1v1h-1zM62 282h1v1h-1zM68 282h1v1h-1zM72 282h1v1h-1zM76 282h1v1h-1zM78 282h2v1h-2zM81 282h1v1h-1zM83 282h3v1h-3zM87 282h1v1h-1zM89 282h4v1h-4zM99 282h2v1h-2zM102 282h1v1h-1zM119 282h1v1h-1zM52 283h1v1h-1zM67 283h2v1h-2zM71 283h3v1h-3zM76 283h3v1h-3zM80 283h2v1h-2zM83 283h2v1h-2zM86 283h1v1h-1zM89 283h3v1h-3zM94 283h3v1h-3zM99 283h2v1h-2zM102 283h1v1h-1zM104 283h3v1h-3zM108 283h2v1h-2zM112 283h2v1h-2zM118 283h1v1h-1zM62 284h1v1h-1zM69 284h1v1h-1zM74 284h4v1h-4zM80 284h1v1h-1zM82 284h5v1h-5zM88 284h5v1h-5zM94 284h3v1h-3zM98 284h6v1h-6zM105 284h1v1h-1zM108 284h2v1h-2zM113 284h2v1h-2zM116 284h1v1h-1zM70 285h3v1h-3zM74 285h1v1h-1zM76 285h4v1h-4zM82 285h2v1h-2zM85 285h12v1h-12zM98 285h3v1h-3zM102 285h2v1h-2zM105 285h3v1h-3zM110 285h3v1h-3zM114 285h3v1h-3zM123 285h1v1h-1zM126 285h1v1h-1zM130 285h1v1h-1zM48 286h1v1h-1zM51 286h1v1h-1zM59 286h2v1h-2zM63 286h1v1h-1zM71 286h1v1h-1zM74 286h1v1h-1zM76 286h2v1h-2zM79 286h4v1h-4zM85 286h7v1h-7zM93 286h2v1h-2zM96 286h2v1h-2zM99 286h4v1h-4zM104 286h2v1h-2zM109 286h1v1h-1zM111 286h1v1h-1zM119 286h2v1h-2zM127 286h1v1h-1zM55 287h1v1h-1zM63 287h3v1h-3zM73 287h1v1h-1zM76 287h1v1h-1zM78 287h3v1h-3zM82 287h1v1h-1zM84 287h7v1h-7zM92 287h3v1h-3zM96 287h1v1h-1zM98 287h2v1h-2zM102 287h1v1h-1zM104 287h1v1h-1zM110 287h1v1h-1zM113 287h1v1h-1zM115 287h1v1h-1zM119 287h1v1h-1zM57 288h1v1h-1zM69 288h2v1h-2zM72 288h2v1h-2zM75 288h1v1h-1zM78 288h5v1h-5zM86 288h3v1h-3zM91 288h10v1h-10zM102 288h4v1h-4zM107 288h1v1h-1zM109 288h4v1h-4zM56 289h1v1h-1zM59 289h2v1h-2zM64 289h2v1h-2zM67 289h1v1h-1zM69 289h2v1h-2zM72 289h5v1h-5zM78 289h2v1h-2zM81 289h12v1h-12zM94 289h4v1h-4zM99 289h2v1h-2zM102 289h2v1h-2zM105 289h3v1h-3zM109 289h3v1h-3zM115 289h1v1h-1zM123 289h1v1h-1zM125 289h2v1h-2zM137 289h1v1h-1zM49 290h1v1h-1zM54 290h1v1h-1zM56 290h2v1h-2zM59 290h1v1h-1zM66 290h2v1h-2zM70 290h8v1h-8zM79 290h3v1h-3zM83 290h20v1h-20zM104 290h3v1h-3zM109 290h8v1h-8zM120 290h1v1h-1zM54 291h1v1h-1zM58 291h1v1h-1zM60 291h1v1h-1zM65 291h3v1h-3zM70 291h2v1h-2zM73 291h1v1h-1zM75 291h2v1h-2zM78 291h16v1h-16zM95 291h8v1h-8zM104 291h2v1h-2zM107 291h1v1h-1zM109 291h1v1h-1zM112 291h4v1h-4zM117 291h2v1h-2zM120 291h1v1h-1zM44 292h1v1h-1zM47 292h1v1h-1zM54 292h5v1h-5zM62 292h1v1h-1zM66 292h7v1h-7zM74 292h8v1h-8zM83 292h4v1h-4zM88 292h8v1h-8zM99 292h3v1h-3zM103 292h3v1h-3zM107 292h2v1h-2zM110 292h1v1h-1zM113 292h1v1h-1zM115 292h1v1h-1zM118 292h1v1h-1zM122 292h1v1h-1zM124 292h1v1h-1zM135 292h1v1h-1zM52 293h1v1h-1zM55 293h3v1h-3zM60 293h1v1h-1zM62 293h4v1h-4zM68 293h3v1h-3zM72 293h1v1h-1zM74 293h8v1h-8zM83 293h13v1h-13zM97 293h3v1h-3zM101 293h2v1h-2zM106 293h6v1h-6zM113 293h2v1h-2zM116 293h1v1h-1zM118 293h2v1h-2zM124 293h2v1h-2zM46 294h1v1h-1zM59 294h1v1h-1zM61 294h2v1h-2zM64 294h4v1h-4zM69 294h10v1h-10zM80 294h12v1h-12zM93 294h7v1h-7zM101 294h5v1h-5zM107 294h5v1h-5zM113 294h3v1h-3zM117 294h1v1h-1zM129 294h1v1h-1zM45 295h1v1h-1zM48 295h2v1h-2zM63 295h10v1h-10zM74 295h32v1h-32zM108 295h11v1h-11zM129 295h1v1h-1zM131 295h1v1h-1zM53 296h1v1h-1zM58 296h1v1h-1zM60 296h1v1h-1zM63 296h4v1h-4zM68 296h3v1h-3zM72 296h12v1h-12zM85 296h31v1h-31zM117 296h3v1h-3zM122 296h1v1h-1zM125 296h1v1h-1zM128 296h1v1h-1zM49 297h1v1h-1zM51 297h1v1h-1zM54 297h1v1h-1zM58 297h1v1h-1zM60 297h3v1h-3zM64 297h13v1h-13zM78 297h25v1h-25zM104 297h2v1h-2zM107 297h5v1h-5zM113 297h1v1h-1zM115 297h3v1h-3zM123 297h1v1h-1zM125 297h1v1h-1zM128 297h1v1h-1zM48 298h1v1h-1zM52 298h2v1h-2zM55 298h1v1h-1zM57 298h1v1h-1zM62 298h1v1h-1zM64 298h1v1h-1zM66 298h2v1h-2zM69 298h17v1h-17zM87 298h2v1h-2zM90 298h26v1h-26zM122 298h1v1h-1zM125 298h1v1h-1zM129 298h1v1h-1zM137 298h1v1h-1zM57 299h3v1h-3zM61 299h3v1h-3zM65 299h3v1h-3zM69 299h3v1h-3zM73 299h41v1h-41zM115 299h1v1h-1zM117 299h1v1h-1zM119 299h1v1h-1zM121 299h2v1h-2zM126 299h2v1h-2zM47 300h1v1h-1zM50 300h1v1h-1zM52 300h1v1h-1zM57 300h4v1h-4zM62 300h54v1h-54zM117 300h1v1h-1zM119 300h2v1h-2zM122 300h1v1h-1zM125 300h1v1h-1zM128 300h2v1h-2zM131 300h2v1h-2zM149 300h1v1h-1zM42 301h2v1h-2zM52 301h4v1h-4zM59 301h1v1h-1zM61 301h3v1h-3zM65 301h2v1h-2zM68 301h26v1h-26zM95 301h17v1h-17zM113 301h1v1h-1zM115 301h5v1h-5zM121 301h1v1h-1zM123 301h5v1h-5zM131 301h1v1h-1zM45 302h1v1h-1zM47 302h1v1h-1zM51 302h1v1h-1zM53 302h4v1h-4zM58 302h2v1h-2zM61 302h9v1h-9zM72 302h31v1h-31zM104 302h12v1h-12zM117 302h6v1h-6zM125 302h1v1h-1zM127 302h1v1h-1zM48 303h1v1h-1zM50 303h1v1h-1zM52 303h2v1h-2zM56 303h3v1h-3zM60 303h4v1h-4zM65 303h51v1h-51zM117 303h2v1h-2zM121 303h1v1h-1zM124 303h1v1h-1zM131 303h1v1h-1zM134 303h1v1h-1zM43 304h1v1h-1zM45 304h4v1h-4zM50 304h1v1h-1zM52 304h3v1h-3zM56 304h13v1h-13zM70 304h1v1h-1zM72 304h4v1h-4zM77 304h36v1h-36zM114 304h2v1h-2zM118 304h2v1h-2zM122 304h1v1h-1zM126 304h2v1h-2zM131 304h1v1h-1zM42 305h1v1h-1zM46 305h2v1h-2zM49 305h2v1h-2zM53 305h4v1h-4zM58 305h1v1h-1zM60 305h26v1h-26zM87 305h39v1h-39zM129 305h1v1h-1zM132 305h1v1h-1zM44 306h9v1h-9zM54 306h11v1h-11zM66 306h49v1h-49zM116 306h3v1h-3zM120 306h1v1h-1zM122 306h1v1h-1zM124 306h1v1h-1zM127 306h1v1h-1zM129 306h2v1h-2zM45 307h1v1h-1zM47 307h3v1h-3zM53 307h1v1h-1zM59 307h2v1h-2zM62 307h55v1h-55zM118 307h3v1h-3zM122 307h2v1h-2zM125 307h2v1h-2zM128 307h3v1h-3zM132 307h1v1h-1zM134 307h1v1h-1zM44 308h1v1h-1zM46 308h1v1h-1zM49 308h2v1h-2zM53 308h55v1h-55zM109 308h17v1h-17zM127 308h1v1h-1zM129 308h1v1h-1zM133 308h1v1h-1zM42 309h1v1h-1zM44 309h3v1h-3zM48 309h1v1h-1zM50 309h3v1h-3zM54 309h1v1h-1zM56 309h1v1h-1zM58 309h60v1h-60zM119 309h1v1h-1zM121 309h2v1h-2zM125 309h1v1h-1zM129 309h1v1h-1zM42 310h1v1h-1zM45 310h3v1h-3zM49 310h3v1h-3zM53 310h2v1h-2zM56 310h55v1h-55zM113 310h9v1h-9zM123 310h5v1h-5zM129 310h1v1h-1zM133 310h2v1h-2zM136 310h1v1h-1zM42 311h2v1h-2zM46 311h2v1h-2zM50 311h2v1h-2zM54 311h69v1h-69zM124 311h1v1h-1zM127 311h4v1h-4zM132 311h2v1h-2zM138 311h1v1h-1zM147 311h1v1h-1zM42 312h3v1h-3zM46 312h11v1h-11zM58 312h48v1h-48zM107 312h9v1h-9zM117 312h2v1h-2zM120 312h5v1h-5zM126 312h1v1h-1zM129 312h3v1h-3zM135 312h1v1h-1zM145 312h1v1h-1zM42 313h1v1h-1zM44 313h6v1h-6zM51 313h69v1h-69zM126 313h4v1h-4zM131 313h2v1h-2zM138 313h1v1h-1zM144 313h1v1h-1zM43 314h4v1h-4zM48 314h78v1h-78zM129 314h3v1h-3zM133 314h1v1h-1zM135 314h1v1h-1zM137 314h1v1h-1zM142 314h1v1h-1zM45 315h6v1h-6zM52 315h69v1h-69zM122 315h2v1h-2zM126 315h4v1h-4zM132 315h2v1h-2zM135 315h1v1h-1zM43 316h2v1h-2zM47 316h4v1h-4zM52 316h64v1h-64zM117 316h3v1h-3zM122 316h5v1h-5zM130 316h1v1h-1zM138 316h1v1h-1zM142 316h1v1h-1zM42 317h1v1h-1zM44 317h70v1h-70zM115 317h5v1h-5zM121 317h3v1h-3zM125 317h7v1h-7zM136 317h1v1h-1zM139 317h1v1h-1zM143 317h1v1h-1zM44 318h3v1h-3zM48 318h4v1h-4zM53 318h65v1h-65zM119 318h7v1h-7zM128 318h4v1h-4zM135 318h1v1h-1zM138 318h1v1h-1z" fill="#151515"/>
<path d="M276 219h1v1h-1zM286 219h1v1h-1zM290 225h1v1h-1zM297 226h1v1h-1zM292 229h1v1h-1zM298 230h1v1h-1zM267 231h1v1h-1zM271 232h1v1h-1zM279 233h1v1h-1zM231 234h2v1h-2zM289 234h1v1h-1zM268 235h2v1h-2zM274 235h1v1h-1zM277 235h1v1h-1zM286 235h1v1h-1zM264 236h1v1h-1zM266 236h1v1h-1zM276 236h1v1h-1zM290 236h2v1h-2zM302 236h1v1h-1zM256 237h1v1h-1zM268 237h1v1h-1zM273 237h1v1h-1zM278 237h1v1h-1zM281 237h2v1h-2zM289 237h1v1h-1zM292 237h1v1h-1zM297 237h1v1h-1zM254 238h1v1h-1zM256 238h1v1h-1zM270 238h1v1h-1zM281 238h2v1h-2zM284 238h1v1h-1zM287 238h1v1h-1zM291 238h1v1h-1zM217 239h1v1h-1zM264 239h1v1h-1zM266 239h1v1h-1zM277 239h2v1h-2zM290 239h1v1h-1zM275 240h1v1h-1zM278 240h1v1h-1zM289 240h1v1h-1zM294 240h1v1h-1zM259 241h1v1h-1zM269 241h1v1h-1zM273 241h1v1h-1zM286 241h1v1h-1zM298 241h1v1h-1zM306 241h1v1h-1zM259 242h1v1h-1zM266 242h1v1h-1zM280 242h1v1h-1zM284 242h3v1h-3zM288 242h2v1h-2zM260 243h1v1h-1zM268 243h1v1h-1zM271 243h1v1h-1zM275 243h1v1h-1zM279 243h2v1h-2zM286 243h1v1h-1zM269 244h1v1h-1zM271 244h1v1h-1zM280 244h1v1h-1zM288 244h1v1h-1zM225 245h1v1h-1zM230 245h1v1h-1zM254 245h1v1h-1zM257 245h2v1h-2zM261 245h1v1h-1zM268 245h1v1h-1zM272 245h1v1h-1zM287 245h1v1h-1zM289 245h1v1h-1zM302 245h1v1h-1zM249 246h1v1h-1zM252 246h1v1h-1zM261 246h2v1h-2zM268 246h1v1h-1zM270 246h1v1h-1zM274 246h1v1h-1zM277 246h3v1h-3zM281 246h2v1h-2zM284 246h2v1h-2zM252 247h1v1h-1zM254 247h1v1h-1zM259 247h1v1h-1zM265 247h1v1h-1zM269 247h1v1h-1zM271 247h3v1h-3zM277 247h4v1h-4zM286 247h1v1h-1zM290 247h1v1h-1zM224 248h1v1h-1zM249 248h1v1h-1zM269 248h2v1h-2zM274 248h1v1h-1zM276 248h1v1h-1zM278 248h4v1h-4zM291 248h1v1h-1zM261 249h1v1h-1zM264 249h1v1h-1zM266 249h1v1h-1zM268 249h3v1h-3zM272 249h5v1h-5zM279 249h1v1h-1zM282 249h1v1h-1zM288 249h1v1h-1zM291 249h1v1h-1zM217 250h1v1h-1zM249 250h1v1h-1zM251 250h1v1h-1zM256 250h1v1h-1zM265 250h1v1h-1zM267 250h4v1h-4zM279 250h1v1h-1zM294 250h1v1h-1zM207 251h1v1h-1zM250 251h1v1h-1zM253 251h2v1h-2zM263 251h3v1h-3zM271 251h1v1h-1zM274 251h2v1h-2zM277 251h1v1h-1zM279 251h1v1h-1zM286 251h1v1h-1zM289 251h1v1h-1zM293 251h1v1h-1zM296 251h1v1h-1zM228 252h1v1h-1zM256 252h1v1h-1zM261 252h3v1h-3zM268 252h1v1h-1zM270 252h3v1h-3zM276 252h1v1h-1zM280 252h2v1h-2zM283 252h1v1h-1zM290 252h1v1h-1zM295 252h1v1h-1zM244 253h1v1h-1zM251 253h5v1h-5zM257 253h3v1h-3zM263 253h4v1h-4zM268 253h1v1h-1zM270 253h2v1h-2zM279 253h3v1h-3zM283 253h1v1h-1zM289 253h1v1h-1zM293 253h1v1h-1zM235 254h1v1h-1zM246 254h1v1h-1zM261 254h1v1h-1zM265 254h1v1h-1zM271 254h1v1h-1zM275 254h1v1h-1zM278 254h1v1h-1zM280 254h2v1h-2zM285 254h2v1h-2zM291 254h1v1h-1zM295 254h1v1h-1zM245 255h2v1h-2zM251 255h1v1h-1zM253 255h1v1h-1zM262 255h1v1h-1zM265 255h1v1h-1zM267 255h2v1h-2zM273 255h1v1h-1zM275 255h1v1h-1zM282 255h1v1h-1zM289 255h2v1h-2zM252 256h1v1h-1zM254 256h1v1h-1zM262 256h1v1h-1zM264 256h3v1h-3zM268 256h4v1h-4zM273 256h1v1h-1zM275 256h1v1h-1zM280 256h2v1h-2zM284 256h1v1h-1zM287 256h1v1h-1zM292 256h1v1h-1zM306 256h1v1h-1zM242 257h1v1h-1zM250 257h1v1h-1zM252 257h1v1h-1zM255 257h1v1h-1zM257 257h2v1h-2zM261 257h1v1h-1zM265 257h5v1h-5zM271 257h3v1h-3zM275 257h1v1h-1zM278 257h1v1h-1zM280 257h1v1h-1zM283 257h1v1h-1zM285 257h2v1h-2zM292 257h1v1h-1zM294 257h1v1h-1zM227 258h1v1h-1zM246 258h1v1h-1zM253 258h1v1h-1zM257 258h2v1h-2zM261 258h4v1h-4zM266 258h3v1h-3zM270 258h1v1h-1zM274 258h2v1h-2zM277 258h4v1h-4zM283 258h1v1h-1zM288 258h2v1h-2zM242 259h1v1h-1zM248 259h2v1h-2zM252 259h4v1h-4zM259 259h2v1h-2zM262 259h2v1h-2zM265 259h1v1h-1zM267 259h1v1h-1zM269 259h2v1h-2zM275 259h1v1h-1zM278 259h1v1h-1zM280 259h1v1h-1zM286 259h1v1h-1zM288 259h1v1h-1zM293 259h1v1h-1zM222 260h1v1h-1zM238 260h1v1h-1zM244 260h2v1h-2zM249 260h2v1h-2zM252 260h1v1h-1zM255 260h2v1h-2zM259 260h1v1h-1zM262 260h3v1h-3zM266 260h2v1h-2zM269 260h1v1h-1zM272 260h2v1h-2zM275 260h3v1h-3zM279 260h1v1h-1zM288 260h1v1h-1zM291 260h1v1h-1zM229 261h1v1h-1zM242 261h1v1h-1zM255 261h3v1h-3zM261 261h1v1h-1zM263 261h1v1h-1zM268 261h1v1h-1zM270 261h2v1h-2zM273 261h4v1h-4zM280 261h2v1h-2zM283 261h2v1h-2zM287 261h1v1h-1zM232 262h1v1h-1zM236 262h1v1h-1zM239 262h1v1h-1zM248 262h2v1h-2zM251 262h1v1h-1zM253 262h1v1h-1zM257 262h1v1h-1zM259 262h2v1h-2zM262 262h1v1h-1zM264 262h1v1h-1zM266 262h1v1h-1zM268 262h2v1h-2zM271 262h2v1h-2zM278 262h3v1h-3zM284 262h1v1h-1zM287 262h1v1h-1zM218 263h1v1h-1zM225 263h1v1h-1zM241 263h1v1h-1zM244 263h2v1h-2zM248 263h2v1h-2zM251 263h2v1h-2zM262 263h1v1h-1zM265 263h3v1h-3zM270 263h2v1h-2zM276 263h3v1h-3zM280 263h2v1h-2zM286 263h1v1h-1zM294 263h2v1h-2zM297 263h1v1h-1zM232 264h1v1h-1zM239 264h1v1h-1zM241 264h1v1h-1zM243 264h4v1h-4zM248 264h1v1h-1zM251 264h1v1h-1zM253 264h2v1h-2zM256 264h1v1h-1zM258 264h3v1h-3zM263 264h1v1h-1zM266 264h4v1h-4zM273 264h3v1h-3zM278 264h1v1h-1zM284 264h1v1h-1zM288 264h1v1h-1zM290 264h1v1h-1zM234 265h1v1h-1zM236 265h1v1h-1zM238 265h1v1h-1zM246 265h2v1h-2zM251 265h3v1h-3zM255 265h2v1h-2zM258 265h1v1h-1zM261 265h1v1h-1zM264 265h1v1h-1zM266 265h1v1h-1zM268 265h4v1h-4zM274 265h7v1h-7zM292 265h1v1h-1zM296 265h1v1h-1zM240 266h1v1h-1zM242 266h2v1h-2zM248 266h2v1h-2zM251 266h1v1h-1zM253 266h7v1h-7zM261 266h1v1h-1zM263 266h1v1h-1zM266 266h1v1h-1zM269 266h1v1h-1zM271 266h1v1h-1zM274 266h2v1h-2zM279 266h1v1h-1zM281 266h1v1h-1zM283 266h1v1h-1zM286 266h1v1h-1zM288 266h1v1h-1zM295 266h2v1h-2zM245 267h1v1h-1zM250 267h2v1h-2zM253 267h1v1h-1zM255 267h4v1h-4zM261 267h3v1h-3zM265 267h1v1h-1zM268 267h2v1h-2zM272 267h1v1h-1zM274 267h1v1h-1zM277 267h1v1h-1zM279 267h1v1h-1zM285 267h4v1h-4zM291 267h1v1h-1zM221 268h1v1h-1zM242 268h1v1h-1zM245 268h3v1h-3zM251 268h4v1h-4zM257 268h1v1h-1zM261 268h3v1h-3zM265 268h1v1h-1zM268 268h1v1h-1zM270 268h3v1h-3zM274 268h1v1h-1zM277 268h2v1h-2zM286 268h1v1h-1zM210 269h1v1h-1zM239 269h1v1h-1zM241 269h1v1h-1zM243 269h1v1h-1zM246 269h3v1h-3zM251 269h3v1h-3zM256 269h4v1h-4zM262 269h2v1h-2zM265 269h2v1h-2zM268 269h2v1h-2zM273 269h1v1h-1zM276 269h2v1h-2zM279 269h1v1h-1zM281 269h1v1h-1zM284 269h2v1h-2zM225 270h1v1h-1zM230 270h1v1h-1zM235 270h1v1h-1zM246 270h1v1h-1zM248 270h7v1h-7zM257 270h1v1h-1zM259 270h1v1h-1zM261 270h5v1h-5zM267 270h1v1h-1zM270 270h1v1h-1zM273 270h1v1h-1zM277 270h1v1h-1zM282 270h1v1h-1zM230 271h1v1h-1zM233 271h1v1h-1zM235 271h1v1h-1zM238 271h2v1h-2zM241 271h1v1h-1zM245 271h1v1h-1zM248 271h1v1h-1zM251 271h2v1h-2zM254 271h4v1h-4zM260 271h1v1h-1zM262 271h1v1h-1zM266 271h3v1h-3zM273 271h1v1h-1zM277 271h1v1h-1zM279 271h1v1h-1zM291 271h1v1h-1zM229 272h1v1h-1zM239 272h7v1h-7zM247 272h1v1h-1zM250 272h1v1h-1zM253 272h1v1h-1zM255 272h1v1h-1zM258 272h3v1h-3zM262 272h1v1h-1zM264 272h3v1h-3zM268 272h1v1h-1zM271 272h1v1h-1zM273 272h3v1h-3zM277 272h1v1h-1zM281 272h1v1h-1zM284 272h1v1h-1zM287 272h1v1h-1zM201 273h1v1h-1zM220 273h1v1h-1zM229 273h1v1h-1zM233 273h1v1h-1zM235 273h1v1h-1zM237 273h2v1h-2zM245 273h1v1h-1zM248 273h1v1h-1zM250 273h1v1h-1zM252 273h1v1h-1zM254 273h1v1h-1zM259 273h1v1h-1zM262 273h1v1h-1zM265 273h1v1h-1zM267 273h2v1h-2zM275 273h3v1h-3zM279 273h1v1h-1zM287 273h1v1h-1zM291 273h1v1h-1zM217 274h1v1h-1zM228 274h1v1h-1zM233 274h1v1h-1zM235 274h2v1h-2zM241 274h1v1h-1zM243 274h2v1h-2zM247 274h6v1h-6zM254 274h3v1h-3zM263 274h1v1h-1zM265 274h1v1h-1zM267 274h1v1h-1zM272 274h2v1h-2zM279 274h1v1h-1zM282 274h1v1h-1zM291 274h1v1h-1zM218 275h1v1h-1zM220 275h1v1h-1zM222 275h2v1h-2zM229 275h1v1h-1zM231 275h3v1h-3zM236 275h1v1h-1zM238 275h1v1h-1zM240 275h1v1h-1zM243 275h2v1h-2zM249 275h2v1h-2zM252 275h4v1h-4zM257 275h1v1h-1zM259 275h1v1h-1zM261 275h1v1h-1zM263 275h2v1h-2zM266 275h2v1h-2zM269 275h4v1h-4zM274 275h1v1h-1zM276 275h3v1h-3zM229 276h1v1h-1zM235 276h2v1h-2zM239 276h1v1h-1zM244 276h7v1h-7zM252 276h4v1h-4zM258 276h1v1h-1zM261 276h1v1h-1zM265 276h1v1h-1zM268 276h2v1h-2zM271 276h3v1h-3zM275 276h1v1h-1zM281 276h1v1h-1zM285 276h1v1h-1zM289 276h2v1h-2zM210 277h1v1h-1zM214 277h2v1h-2zM221 277h1v1h-1zM227 277h3v1h-3zM232 277h1v1h-1zM235 277h1v1h-1zM237 277h4v1h-4zM242 277h5v1h-5zM248 277h5v1h-5zM254 277h3v1h-3zM261 277h2v1h-2zM264 277h1v1h-1zM268 277h1v1h-1zM270 277h1v1h-1zM272 277h4v1h-4zM278 277h1v1h-1zM283 277h1v1h-1zM286 277h1v1h-1zM199 278h1v1h-1zM211 278h1v1h-1zM213 278h1v1h-1zM218 278h1v1h-1zM220 278h1v1h-1zM222 278h1v1h-1zM225 278h2v1h-2zM228 278h1v1h-1zM230 278h2v1h-2zM233 278h1v1h-1zM236 278h1v1h-1zM238 278h2v1h-2zM241 278h1v1h-1zM243 278h3v1h-3zM249 278h1v1h-1zM251 278h1v1h-1zM253 278h1v1h-1zM255 278h7v1h-7zM263 278h2v1h-2zM268 278h1v1h-1zM283 278h2v1h-2zM219 279h1v1h-1zM223 279h2v1h-2zM227 279h1v1h-1zM229 279h1v1h-1zM232 279h1v1h-1zM235 279h1v1h-1zM239 279h2v1h-2zM243 279h2v1h-2zM246 279h2v1h-2zM250 279h1v1h-1zM252 279h4v1h-4zM258 279h6v1h-6zM266 279h2v1h-2zM269 279h2v1h-2zM275 279h2v1h-2zM200 280h1v1h-1zM217 280h2v1h-2zM226 280h1v1h-1zM230 280h1v1h-1zM232 280h2v1h-2zM237 280h2v1h-2zM240 280h1v1h-1zM243 280h2v1h-2zM246 280h2v1h-2zM249 280h3v1h-3zM253 280h3v1h-3zM259 280h2v1h-2zM264 280h3v1h-3zM268 280h2v1h-2zM271 280h1v1h-1zM275 280h1v1h-1zM277 280h1v1h-1zM279 280h1v1h-1zM203 281h1v1h-1zM220 281h1v1h-1zM223 281h1v1h-1zM225 281h1v1h-1zM227 281h2v1h-2zM232 281h2v1h-2zM235 281h2v1h-2zM244 281h5v1h-5zM250 281h2v1h-2zM254 281h2v1h-2zM257 281h1v1h-1zM262 281h1v1h-1zM265 281h4v1h-4zM270 281h1v1h-1zM272 281h1v1h-1zM275 281h2v1h-2zM288 281h1v1h-1zM210 282h1v1h-1zM215 282h1v1h-1zM218 282h2v1h-2zM225 282h1v1h-1zM230 282h1v1h-1zM234 282h1v1h-1zM237 282h2v1h-2zM241 282h3v1h-3zM247 282h2v1h-2zM250 282h1v1h-1zM252 282h6v1h-6zM259 282h2v1h-2zM263 282h1v1h-1zM265 282h3v1h-3zM269 282h1v1h-1zM286 282h1v1h-1zM291 282h1v1h-1zM201 283h1v1h-1zM204 283h1v1h-1zM207 283h1v1h-1zM215 283h1v1h-1zM218 283h4v1h-4zM223 283h1v1h-1zM227 283h1v1h-1zM229 283h1v1h-1zM231 283h5v1h-5zM238 283h2v1h-2zM242 283h1v1h-1zM246 283h4v1h-4zM251 283h1v1h-1zM253 283h1v1h-1zM255 283h1v1h-1zM258 283h3v1h-3zM262 283h2v1h-2zM265 283h2v1h-2zM268 283h2v1h-2zM271 283h2v1h-2zM278 283h1v1h-1zM280 283h1v1h-1zM211 284h1v1h-1zM215 284h2v1h-2zM219 284h1v1h-1zM223 284h2v1h-2zM226 284h1v1h-1zM228 284h5v1h-5zM234 284h2v1h-2zM238 284h3v1h-3zM242 284h4v1h-4zM247 284h2v1h-2zM250 284h6v1h-6zM257 284h1v1h-1zM262 284h2v1h-2zM266 284h3v1h-3zM270 284h3v1h-3zM274 284h1v1h-1zM278 284h1v1h-1zM289 284h1v1h-1zM200 285h1v1h-1zM205 285h2v1h-2zM210 285h1v1h-1zM213 285h1v1h-1zM216 285h1v1h-1zM222 285h1v1h-1zM224 285h2v1h-2zM227 285h1v1h-1zM229 285h3v1h-3zM233 285h4v1h-4zM238 285h1v1h-1zM240 285h2v1h-2zM243 285h1v1h-1zM245 285h6v1h-6zM252 285h2v1h-2zM255 285h1v1h-1zM257 285h2v1h-2zM260 285h2v1h-2zM263 285h1v1h-1zM269 285h2v1h-2zM273 285h2v1h-2zM281 285h1v1h-1zM285 285h1v1h-1zM207 286h1v1h-1zM210 286h1v1h-1zM213 286h1v1h-1zM216 286h1v1h-1zM218 286h2v1h-2zM223 286h1v1h-1zM228 286h2v1h-2zM232 286h1v1h-1zM234 286h2v1h-2zM237 286h8v1h-8zM246 286h1v1h-1zM248 286h2v1h-2zM252 286h3v1h-3zM256 286h2v1h-2zM259 286h5v1h-5zM265 286h5v1h-5zM271 286h1v1h-1zM277 286h2v1h-2zM285 286h1v1h-1zM293 286h1v1h-1zM210 287h1v1h-1zM214 287h2v1h-2zM218 287h2v1h-2zM221 287h1v1h-1zM223 287h1v1h-1zM225 287h1v1h-1zM227 287h2v1h-2zM230 287h8v1h-8zM239 287h6v1h-6zM246 287h3v1h-3zM251 287h2v1h-2zM254 287h1v1h-1zM257 287h6v1h-6zM265 287h3v1h-3zM270 287h1v1h-1zM272 287h2v1h-2zM277 287h1v1h-1zM203 288h1v1h-1zM205 288h1v1h-1zM211 288h1v1h-1zM214 288h1v1h-1zM219 288h2v1h-2zM224 288h1v1h-1zM226 288h1v1h-1zM228 288h3v1h-3zM232 288h8v1h-8zM241 288h1v1h-1zM243 288h2v1h-2zM246 288h5v1h-5zM252 288h2v1h-2zM255 288h3v1h-3zM259 288h3v1h-3zM263 288h2v1h-2zM266 288h1v1h-1zM270 288h3v1h-3zM201 289h1v1h-1zM205 289h1v1h-1zM211 289h1v1h-1zM214 289h4v1h-4zM220 289h2v1h-2zM223 289h1v1h-1zM227 289h5v1h-5zM233 289h4v1h-4zM238 289h11v1h-11zM250 289h10v1h-10zM261 289h2v1h-2zM264 289h4v1h-4zM269 289h1v1h-1zM271 289h3v1h-3zM275 289h1v1h-1zM278 289h1v1h-1zM206 290h2v1h-2zM215 290h1v1h-1zM218 290h1v1h-1zM220 290h2v1h-2zM223 290h4v1h-4zM228 290h5v1h-5zM234 290h2v1h-2zM237 290h8v1h-8zM246 290h2v1h-2zM249 290h1v1h-1zM251 290h2v1h-2zM254 290h4v1h-4zM259 290h10v1h-10zM271 290h1v1h-1zM273 290h1v1h-1zM277 290h1v1h-1zM201 291h1v1h-1zM204 291h1v1h-1zM206 291h1v1h-1zM212 291h1v1h-1zM217 291h2v1h-2zM221 291h18v1h-18zM240 291h10v1h-10zM251 291h2v1h-2zM254 291h2v1h-2zM257 291h1v1h-1zM260 291h7v1h-7zM272 291h1v1h-1zM276 291h2v1h-2zM207 292h3v1h-3zM212 292h1v1h-1zM215 292h1v1h-1zM217 292h1v1h-1zM220 292h2v1h-2zM223 292h2v1h-2zM226 292h5v1h-5zM232 292h2v1h-2zM235 292h2v1h-2zM239 292h15v1h-15zM255 292h3v1h-3zM259 292h2v1h-2zM264 292h1v1h-1zM267 292h1v1h-1zM269 292h2v1h-2zM272 292h1v1h-1zM282 292h1v1h-1zM284 292h1v1h-1zM205 293h1v1h-1zM209 293h1v1h-1zM213 293h1v1h-1zM215 293h2v1h-2zM219 293h2v1h-2zM222 293h6v1h-6zM229 293h19v1h-19zM249 293h3v1h-3zM253 293h5v1h-5zM259 293h5v1h-5zM266 293h1v1h-1zM268 293h1v1h-1zM272 293h1v1h-1zM205 294h2v1h-2zM210 294h1v1h-1zM213 294h1v1h-1zM215 294h3v1h-3zM220 294h1v1h-1zM222 294h3v1h-3zM228 294h29v1h-29zM258 294h1v1h-1zM260 294h2v1h-2zM266 294h2v1h-2zM272 294h2v1h-2zM201 295h3v1h-3zM205 295h1v1h-1zM207 295h1v1h-1zM211 295h4v1h-4zM216 295h4v1h-4zM221 295h1v1h-1zM224 295h12v1h-12zM237 295h17v1h-17zM255 295h10v1h-10zM266 295h1v1h-1zM269 295h2v1h-2zM275 295h1v1h-1zM278 295h1v1h-1zM201 296h2v1h-2zM204 296h4v1h-4zM210 296h3v1h-3zM215 296h1v1h-1zM219 296h22v1h-22zM242 296h10v1h-10zM253 296h9v1h-9zM265 296h1v1h-1zM269 296h2v1h-2zM274 296h1v1h-1zM286 296h1v1h-1zM289 296h1v1h-1zM199 297h1v1h-1zM203 297h1v1h-1zM205 297h1v1h-1zM207 297h4v1h-4zM212 297h1v1h-1zM214 297h34v1h-34zM249 297h3v1h-3zM253 297h7v1h-7zM261 297h1v1h-1zM263 297h1v1h-1zM265 297h2v1h-2zM270 297h1v1h-1zM276 297h1v1h-1zM315 297h1v1h-1zM200 298h1v1h-1zM209 298h1v1h-1zM211 298h5v1h-5zM217 298h3v1h-3zM221 298h2v1h-2zM224 298h29v1h-29zM254 298h6v1h-6zM261 298h5v1h-5zM267 298h1v1h-1zM269 298h1v1h-1zM271 298h1v1h-1zM273 298h1v1h-1zM275 298h1v1h-1zM277 298h1v1h-1zM201 299h1v1h-1zM204 299h3v1h-3zM208 299h2v1h-2zM211 299h2v1h-2zM214 299h2v1h-2zM217 299h6v1h-6zM224 299h38v1h-38zM263 299h3v1h-3zM267 299h1v1h-1zM270 299h4v1h-4zM275 299h1v1h-1zM199 300h2v1h-2zM206 300h1v1h-1zM210 300h12v1h-12zM223 300h27v1h-27zM251 300h17v1h-17zM272 300h1v1h-1zM275 300h1v1h-1zM277 300h1v1h-1zM280 300h1v1h-1zM297 300h1v1h-1zM202 301h2v1h-2zM206 301h1v1h-1zM208 301h3v1h-3zM212 301h41v1h-41zM254 301h1v1h-1zM256 301h7v1h-7zM265 301h1v1h-1zM267 301h1v1h-1zM269 301h1v1h-1zM277 301h1v1h-1zM280 301h1v1h-1zM200 302h1v1h-1zM202 302h2v1h-2zM205 302h4v1h-4zM210 302h1v1h-1zM212 302h9v1h-9zM222 302h2v1h-2zM225 302h44v1h-44zM272 302h1v1h-1zM274 302h3v1h-3zM287 302h1v1h-1zM298 302h1v1h-1zM311 302h1v1h-1zM200 303h2v1h-2zM204 303h2v1h-2zM208 303h1v1h-1zM210 303h2v1h-2zM213 303h1v1h-1zM215 303h3v1h-3zM219 303h30v1h-30zM250 303h22v1h-22zM275 303h3v1h-3zM280 303h1v1h-1zM287 303h2v1h-2zM294 303h1v1h-1zM300 303h2v1h-2zM308 303h1v1h-1zM199 304h1v1h-1zM201 304h1v1h-1zM206 304h1v1h-1zM210 304h53v1h-53zM264 304h4v1h-4zM269 304h2v1h-2zM276 304h2v1h-2zM293 304h1v1h-1zM199 305h2v1h-2zM202 305h2v1h-2zM205 305h5v1h-5zM211 305h5v1h-5zM217 305h26v1h-26zM244 305h10v1h-10zM255 305h18v1h-18zM274 305h2v1h-2zM277 305h1v1h-1zM282 305h1v1h-1zM286 305h1v1h-1zM302 305h1v1h-1zM306 305h2v1h-2zM321 305h1v1h-1zM203 306h2v1h-2zM208 306h3v1h-3zM212 306h52v1h-52zM265 306h6v1h-6zM272 306h2v1h-2zM275 306h1v1h-1zM278 306h1v1h-1zM287 306h1v1h-1zM199 307h3v1h-3zM203 307h7v1h-7zM211 307h8v1h-8zM220 307h47v1h-47zM269 307h3v1h-3zM273 307h3v1h-3zM278 307h3v1h-3zM283 307h1v1h-1zM291 307h2v1h-2zM299 307h1v1h-1zM303 307h1v1h-1zM309 307h1v1h-1zM201 308h8v1h-8zM210 308h54v1h-54zM266 308h1v1h-1zM268 308h3v1h-3zM272 308h3v1h-3zM278 308h1v1h-1zM292 308h1v1h-1zM299 308h1v1h-1zM199 309h1v1h-1zM201 309h1v1h-1zM203 309h2v1h-2zM206 309h2v1h-2zM209 309h54v1h-54zM264 309h2v1h-2zM267 309h3v1h-3zM271 309h2v1h-2zM274 309h1v1h-1zM277 309h2v1h-2zM280 309h1v1h-1zM283 309h3v1h-3zM292 309h3v1h-3zM298 309h1v1h-1zM199 310h2v1h-2zM202 310h5v1h-5zM208 310h46v1h-46zM255 310h7v1h-7zM263 310h6v1h-6zM270 310h5v1h-5zM276 310h1v1h-1zM281 310h1v1h-1zM284 310h1v1h-1zM293 310h1v1h-1zM299 310h1v1h-1zM301 310h1v1h-1zM199 311h4v1h-4zM204 311h3v1h-3zM208 311h53v1h-53zM262 311h1v1h-1zM264 311h2v1h-2zM267 311h1v1h-1zM269 311h4v1h-4zM276 311h1v1h-1zM278 311h2v1h-2zM285 311h2v1h-2zM296 311h1v1h-1zM318 311h1v1h-1zM325 311h1v1h-1zM201 312h2v1h-2zM205 312h4v1h-4zM210 312h61v1h-61zM272 312h2v1h-2zM277 312h1v1h-1zM310 312h1v1h-1zM199 313h1v1h-1zM201 313h1v1h-1zM204 313h57v1h-57zM262 313h5v1h-5zM268 313h2v1h-2zM271 313h1v1h-1zM273 313h1v1h-1zM276 313h3v1h-3zM282 313h1v1h-1zM285 313h1v1h-1zM290 313h1v1h-1zM294 313h1v1h-1zM298 313h1v1h-1zM304 313h1v1h-1zM327 313h1v1h-1zM199 314h1v1h-1zM203 314h1v1h-1zM205 314h62v1h-62zM268 314h1v1h-1zM270 314h1v1h-1zM273 314h2v1h-2zM278 314h1v1h-1zM282 314h2v1h-2zM293 314h1v1h-1zM296 314h1v1h-1zM200 315h1v1h-1zM202 315h73v1h-73zM276 315h2v1h-2zM281 315h2v1h-2zM291 315h1v1h-1zM313 315h2v1h-2zM199 316h74v1h-74zM278 316h1v1h-1zM281 316h2v1h-2zM285 316h1v1h-1zM288 316h1v1h-1zM299 316h1v1h-1zM311 316h1v1h-1zM199 317h67v1h-67zM268 317h2v1h-2zM271 317h1v1h-1zM273 317h1v1h-1zM275 317h2v1h-2zM278 317h1v1h-1zM281 317h1v1h-1zM283 317h1v1h-1zM289 317h1v1h-1zM199 318h73v1h-73zM273 318h5v1h-5zM279 318h2v1h-2zM284 318h1v1h-1zM286 318h1v1h-1zM288 318h1v1h-1zM290 318h1v1h-1zM298 318h1v1h-1zM310 318h1v1h-1z" fill="#151515"/>
<path d="M376 235h1v1h-1zM363 243h1v1h-1zM397 245h1v1h-1zM391 250h1v1h-1zM370 251h1v1h-1zM399 251h1v1h-1zM389 254h1v1h-1zM397 254h1v1h-1zM405 254h1v1h-1zM407 254h1v1h-1zM410 255h1v1h-1zM424 256h1v1h-1zM393 258h1v1h-1zM398 258h1v1h-1zM382 260h1v1h-1zM393 260h1v1h-1zM383 261h1v1h-1zM389 261h1v1h-1zM406 261h1v1h-1zM386 262h1v1h-1zM410 262h1v1h-1zM390 263h1v1h-1zM395 263h1v1h-1zM403 263h1v1h-1zM382 264h1v1h-1zM407 264h1v1h-1zM411 264h1v1h-1zM391 265h1v1h-1zM399 265h1v1h-1zM402 265h1v1h-1zM404 265h1v1h-1zM415 265h1v1h-1zM433 265h1v1h-1zM374 266h1v1h-1zM379 266h1v1h-1zM390 266h1v1h-1zM396 266h1v1h-1zM403 266h1v1h-1zM420 266h2v1h-2zM424 266h1v1h-1zM371 267h1v1h-1zM380 267h1v1h-1zM383 267h1v1h-1zM406 267h2v1h-2zM373 268h1v1h-1zM382 268h1v1h-1zM395 268h2v1h-2zM398 268h1v1h-1zM403 268h1v1h-1zM371 269h1v1h-1zM376 269h1v1h-1zM379 269h1v1h-1zM381 269h1v1h-1zM386 269h1v1h-1zM390 269h1v1h-1zM392 269h1v1h-1zM394 269h1v1h-1zM405 269h1v1h-1zM407 269h1v1h-1zM416 269h3v1h-3zM376 270h2v1h-2zM393 270h1v1h-1zM398 270h1v1h-1zM400 270h1v1h-1zM413 270h1v1h-1zM416 270h1v1h-1zM371 271h1v1h-1zM385 271h1v1h-1zM388 271h1v1h-1zM395 271h3v1h-3zM400 271h1v1h-1zM403 271h1v1h-1zM406 271h2v1h-2zM409 271h1v1h-1zM416 271h1v1h-1zM418 271h1v1h-1zM370 272h2v1h-2zM382 272h1v1h-1zM391 272h2v1h-2zM394 272h1v1h-1zM397 272h1v1h-1zM399 272h1v1h-1zM406 272h2v1h-2zM410 272h1v1h-1zM412 272h1v1h-1zM414 272h1v1h-1zM419 272h1v1h-1zM454 272h1v1h-1zM381 273h1v1h-1zM386 273h3v1h-3zM390 273h1v1h-1zM392 273h1v1h-1zM397 273h1v1h-1zM404 273h1v1h-1zM408 273h3v1h-3zM417 273h1v1h-1zM422 273h1v1h-1zM425 273h1v1h-1zM373 274h1v1h-1zM375 274h2v1h-2zM384 274h1v1h-1zM390 274h1v1h-1zM395 274h9v1h-9zM406 274h3v1h-3zM412 274h1v1h-1zM414 274h1v1h-1zM416 274h3v1h-3zM388 275h1v1h-1zM392 275h1v1h-1zM394 275h1v1h-1zM396 275h1v1h-1zM401 275h2v1h-2zM404 275h3v1h-3zM410 275h3v1h-3zM415 275h1v1h-1zM417 275h1v1h-1zM429 275h1v1h-1zM432 275h1v1h-1zM368 276h1v1h-1zM382 276h1v1h-1zM384 276h2v1h-2zM390 276h1v1h-1zM394 276h1v1h-1zM400 276h2v1h-2zM404 276h1v1h-1zM406 276h1v1h-1zM409 276h2v1h-2zM412 276h2v1h-2zM415 276h1v1h-1zM422 276h1v1h-1zM428 276h1v1h-1zM380 277h1v1h-1zM385 277h1v1h-1zM392 277h2v1h-2zM399 277h2v1h-2zM402 277h1v1h-1zM407 277h3v1h-3zM412 277h2v1h-2zM416 277h1v1h-1zM429 277h1v1h-1zM373 278h1v1h-1zM375 278h1v1h-1zM379 278h1v1h-1zM386 278h1v1h-1zM389 278h6v1h-6zM397 278h1v1h-1zM409 278h1v1h-1zM413 278h2v1h-2zM418 278h1v1h-1zM422 278h1v1h-1zM436 278h2v1h-2zM376 279h1v1h-1zM378 279h2v1h-2zM385 279h1v1h-1zM387 279h1v1h-1zM389 279h2v1h-2zM393 279h2v1h-2zM398 279h1v1h-1zM400 279h1v1h-1zM404 279h1v1h-1zM406 279h1v1h-1zM408 279h3v1h-3zM412 279h1v1h-1zM414 279h2v1h-2zM418 279h1v1h-1zM420 279h3v1h-3zM427 279h1v1h-1zM429 279h1v1h-1zM377 280h1v1h-1zM382 280h2v1h-2zM387 280h1v1h-1zM389 280h2v1h-2zM394 280h4v1h-4zM399 280h1v1h-1zM402 280h3v1h-3zM406 280h1v1h-1zM408 280h1v1h-1zM410 280h1v1h-1zM413 280h3v1h-3zM417 280h1v1h-1zM422 280h2v1h-2zM426 280h2v1h-2zM429 280h1v1h-1zM370 281h2v1h-2zM383 281h2v1h-2zM386 281h2v1h-2zM390 281h4v1h-4zM396 281h1v1h-1zM398 281h1v1h-1zM400 281h3v1h-3zM404 281h3v1h-3zM408 281h1v1h-1zM411 281h1v1h-1zM415 281h3v1h-3zM419 281h1v1h-1zM421 281h1v1h-1zM426 281h2v1h-2zM360 282h1v1h-1zM373 282h1v1h-1zM377 282h1v1h-1zM379 282h2v1h-2zM382 282h1v1h-1zM384 282h1v1h-1zM386 282h1v1h-1zM389 282h2v1h-2zM392 282h1v1h-1zM394 282h1v1h-1zM396 282h5v1h-5zM402 282h1v1h-1zM404 282h1v1h-1zM406 282h7v1h-7zM415 282h1v1h-1zM418 282h1v1h-1zM420 282h1v1h-1zM423 282h2v1h-2zM430 282h1v1h-1zM433 282h1v1h-1zM438 282h1v1h-1zM370 283h2v1h-2zM384 283h1v1h-1zM386 283h4v1h-4zM391 283h1v1h-1zM393 283h1v1h-1zM395 283h3v1h-3zM400 283h2v1h-2zM403 283h1v1h-1zM406 283h3v1h-3zM410 283h2v1h-2zM414 283h1v1h-1zM416 283h3v1h-3zM427 283h1v1h-1zM429 283h1v1h-1zM438 283h1v1h-1zM363 284h1v1h-1zM375 284h3v1h-3zM381 284h1v1h-1zM384 284h1v1h-1zM387 284h5v1h-5zM394 284h6v1h-6zM401 284h3v1h-3zM405 284h4v1h-4zM411 284h4v1h-4zM416 284h2v1h-2zM422 284h2v1h-2zM425 284h1v1h-1zM428 284h1v1h-1zM430 284h1v1h-1zM432 284h2v1h-2zM435 284h1v1h-1zM440 284h1v1h-1zM366 285h1v1h-1zM368 285h1v1h-1zM371 285h6v1h-6zM382 285h1v1h-1zM384 285h3v1h-3zM389 285h1v1h-1zM391 285h3v1h-3zM395 285h2v1h-2zM401 285h11v1h-11zM413 285h1v1h-1zM420 285h1v1h-1zM423 285h1v1h-1zM425 285h1v1h-1zM427 285h1v1h-1zM430 285h1v1h-1zM439 285h1v1h-1zM445 285h1v1h-1zM367 286h1v1h-1zM376 286h1v1h-1zM379 286h2v1h-2zM382 286h2v1h-2zM385 286h4v1h-4zM390 286h5v1h-5zM396 286h3v1h-3zM400 286h5v1h-5zM406 286h1v1h-1zM409 286h3v1h-3zM413 286h2v1h-2zM416 286h4v1h-4zM421 286h2v1h-2zM424 286h1v1h-1zM426 286h3v1h-3zM437 286h1v1h-1zM359 287h1v1h-1zM375 287h1v1h-1zM378 287h2v1h-2zM383 287h4v1h-4zM388 287h1v1h-1zM391 287h4v1h-4zM396 287h11v1h-11zM409 287h1v1h-1zM412 287h1v1h-1zM414 287h1v1h-1zM416 287h3v1h-3zM420 287h1v1h-1zM422 287h1v1h-1zM426 287h5v1h-5zM435 287h2v1h-2zM443 287h1v1h-1zM445 287h1v1h-1zM366 288h2v1h-2zM371 288h1v1h-1zM375 288h1v1h-1zM380 288h1v1h-1zM382 288h10v1h-10zM393 288h13v1h-13zM407 288h5v1h-5zM413 288h2v1h-2zM416 288h3v1h-3zM420 288h1v1h-1zM423 288h1v1h-1zM425 288h1v1h-1zM428 288h2v1h-2zM436 288h3v1h-3zM358 289h1v1h-1zM362 289h1v1h-1zM367 289h2v1h-2zM377 289h5v1h-5zM386 289h2v1h-2zM389 289h33v1h-33zM423 289h1v1h-1zM426 289h1v1h-1zM429 289h1v1h-1zM431 289h2v1h-2zM440 289h1v1h-1zM359 290h2v1h-2zM367 290h1v1h-1zM370 290h5v1h-5zM377 290h1v1h-1zM379 290h2v1h-2zM382 290h4v1h-4zM387 290h1v1h-1zM390 290h16v1h-16zM407 290h5v1h-5zM413 290h3v1h-3zM417 290h3v1h-3zM422 290h2v1h-2zM425 290h2v1h-2zM436 290h2v1h-2zM441 290h1v1h-1zM366 291h2v1h-2zM369 291h1v1h-1zM372 291h1v1h-1zM375 291h1v1h-1zM378 291h2v1h-2zM381 291h4v1h-4zM386 291h1v1h-1zM388 291h3v1h-3zM392 291h9v1h-9zM402 291h14v1h-14zM417 291h1v1h-1zM420 291h1v1h-1zM422 291h1v1h-1zM424 291h3v1h-3zM428 291h2v1h-2zM431 291h1v1h-1zM435 291h1v1h-1zM444 291h1v1h-1zM360 292h1v1h-1zM362 292h1v1h-1zM364 292h1v1h-1zM366 292h1v1h-1zM369 292h1v1h-1zM371 292h2v1h-2zM378 292h11v1h-11zM390 292h3v1h-3zM394 292h22v1h-22zM417 292h3v1h-3zM421 292h4v1h-4zM428 292h5v1h-5zM435 292h1v1h-1zM437 292h2v1h-2zM440 292h1v1h-1zM442 292h1v1h-1zM360 293h1v1h-1zM368 293h1v1h-1zM370 293h2v1h-2zM374 293h2v1h-2zM379 293h2v1h-2zM382 293h13v1h-13zM396 293h19v1h-19zM416 293h4v1h-4zM421 293h2v1h-2zM424 293h4v1h-4zM430 293h1v1h-1zM435 293h1v1h-1zM438 293h1v1h-1zM363 294h3v1h-3zM368 294h1v1h-1zM373 294h1v1h-1zM375 294h4v1h-4zM380 294h9v1h-9zM390 294h15v1h-15zM406 294h1v1h-1zM408 294h9v1h-9zM418 294h1v1h-1zM420 294h2v1h-2zM423 294h4v1h-4zM428 294h2v1h-2zM434 294h2v1h-2zM437 294h1v1h-1zM441 294h1v1h-1zM446 294h1v1h-1zM452 294h1v1h-1zM484 294h1v1h-1zM363 295h2v1h-2zM372 295h3v1h-3zM376 295h12v1h-12zM389 295h8v1h-8zM398 295h23v1h-23zM422 295h8v1h-8zM435 295h1v1h-1zM468 295h1v1h-1zM364 296h1v1h-1zM368 296h1v1h-1zM370 296h1v1h-1zM372 296h1v1h-1zM376 296h6v1h-6zM383 296h21v1h-21zM405 296h2v1h-2zM408 296h12v1h-12zM421 296h6v1h-6zM428 296h1v1h-1zM430 296h1v1h-1zM435 296h1v1h-1zM437 296h1v1h-1zM439 296h1v1h-1zM358 297h1v1h-1zM363 297h4v1h-4zM368 297h1v1h-1zM372 297h1v1h-1zM374 297h1v1h-1zM377 297h1v1h-1zM379 297h1v1h-1zM381 297h31v1h-31zM413 297h6v1h-6zM421 297h1v1h-1zM423 297h3v1h-3zM427 297h1v1h-1zM429 297h4v1h-4zM434 297h1v1h-1zM362 298h4v1h-4zM367 298h4v1h-4zM372 298h3v1h-3zM376 298h55v1h-55zM432 298h2v1h-2zM435 298h4v1h-4zM440 298h1v1h-1zM452 298h1v1h-1zM362 299h3v1h-3zM366 299h1v1h-1zM370 299h4v1h-4zM375 299h4v1h-4zM380 299h32v1h-32zM413 299h6v1h-6zM420 299h9v1h-9zM430 299h1v1h-1zM432 299h1v1h-1zM437 299h1v1h-1zM440 299h1v1h-1zM449 299h1v1h-1zM361 300h2v1h-2zM366 300h2v1h-2zM369 300h2v1h-2zM372 300h1v1h-1zM375 300h4v1h-4zM380 300h35v1h-35zM416 300h12v1h-12zM429 300h1v1h-1zM431 300h2v1h-2zM434 300h2v1h-2zM438 300h1v1h-1zM446 300h1v1h-1zM449 300h1v1h-1zM460 300h1v1h-1zM471 300h1v1h-1zM365 301h1v1h-1zM367 301h2v1h-2zM370 301h5v1h-5zM376 301h1v1h-1zM378 301h21v1h-21zM400 301h21v1h-21zM423 301h1v1h-1zM425 301h7v1h-7zM434 301h2v1h-2zM441 301h1v1h-1zM453 301h1v1h-1zM362 302h1v1h-1zM366 302h1v1h-1zM368 302h2v1h-2zM371 302h59v1h-59zM432 302h1v1h-1zM434 302h1v1h-1zM436 302h2v1h-2zM441 302h1v1h-1zM444 302h1v1h-1zM449 302h2v1h-2zM361 303h2v1h-2zM364 303h14v1h-14zM379 303h54v1h-54zM434 303h4v1h-4zM439 303h2v1h-2zM359 304h1v1h-1zM362 304h1v1h-1zM366 304h1v1h-1zM368 304h59v1h-59zM428 304h5v1h-5zM434 304h1v1h-1zM441 304h1v1h-1zM465 304h1v1h-1zM359 305h1v1h-1zM362 305h5v1h-5zM368 305h1v1h-1zM370 305h4v1h-4zM376 305h49v1h-49zM427 305h11v1h-11zM439 305h1v1h-1zM443 305h1v1h-1zM359 306h1v1h-1zM361 306h4v1h-4zM366 306h13v1h-13zM380 306h46v1h-46zM427 306h1v1h-1zM429 306h5v1h-5zM437 306h1v1h-1zM442 306h1v1h-1zM446 306h1v1h-1zM449 306h1v1h-1zM461 306h1v1h-1zM466 306h1v1h-1zM476 306h1v1h-1zM364 307h1v1h-1zM367 307h5v1h-5zM373 307h55v1h-55zM429 307h1v1h-1zM431 307h3v1h-3zM436 307h2v1h-2zM440 307h4v1h-4zM445 307h2v1h-2zM360 308h4v1h-4zM365 308h3v1h-3zM370 308h4v1h-4zM375 308h56v1h-56zM432 308h2v1h-2zM437 308h3v1h-3zM444 308h1v1h-1zM446 308h1v1h-1zM457 308h1v1h-1zM465 308h1v1h-1zM358 309h4v1h-4zM363 309h4v1h-4zM368 309h8v1h-8zM377 309h51v1h-51zM429 309h5v1h-5zM435 309h2v1h-2zM438 309h1v1h-1zM440 309h1v1h-1zM442 309h3v1h-3zM446 309h1v1h-1zM449 309h1v1h-1zM462 309h1v1h-1zM358 310h5v1h-5zM364 310h2v1h-2zM367 310h65v1h-65zM434 310h6v1h-6zM441 310h1v1h-1zM443 310h1v1h-1zM461 310h2v1h-2zM358 311h1v1h-1zM360 311h3v1h-3zM364 311h1v1h-1zM366 311h1v1h-1zM369 311h3v1h-3zM373 311h56v1h-56zM430 311h11v1h-11zM473 311h1v1h-1zM476 311h1v1h-1zM484 311h1v1h-1zM358 312h2v1h-2zM361 312h1v1h-1zM363 312h1v1h-1zM365 312h65v1h-65zM431 312h3v1h-3zM435 312h5v1h-5zM442 312h1v1h-1zM449 312h1v1h-1zM452 312h1v1h-1zM458 312h1v1h-1zM358 313h1v1h-1zM360 313h3v1h-3zM364 313h1v1h-1zM366 313h68v1h-68zM436 313h6v1h-6zM443 313h1v1h-1zM445 313h1v1h-1zM448 313h1v1h-1zM451 313h1v1h-1zM457 313h1v1h-1zM463 313h1v1h-1zM358 314h7v1h-7zM366 314h2v1h-2zM369 314h2v1h-2zM372 314h1v1h-1zM374 314h57v1h-57zM433 314h1v1h-1zM435 314h2v1h-2zM438 314h2v1h-2zM444 314h1v1h-1zM488 314h1v1h-1zM358 315h5v1h-5zM365 315h14v1h-14zM380 315h53v1h-53zM434 315h4v1h-4zM439 315h2v1h-2zM442 315h1v1h-1zM444 315h2v1h-2zM447 315h2v1h-2zM453 315h1v1h-1zM360 316h2v1h-2zM363 316h73v1h-73zM439 316h2v1h-2zM443 316h2v1h-2zM358 317h1v1h-1zM361 317h1v1h-1zM363 317h66v1h-66zM430 317h3v1h-3zM435 317h1v1h-1zM439 317h3v1h-3zM443 317h1v1h-1zM446 317h1v1h-1zM358 318h3v1h-3zM362 318h1v1h-1zM364 318h4v1h-4zM369 318h68v1h-68zM438 318h3v1h-3zM443 318h2v1h-2zM446 318h1v1h-1zM448 318h1v1h-1zM450 318h2v1h-2z" fill="#151515"/>
<text x="46.3" y="50.2" style="font-family:'Liberation Mono',monospace;font-size:19px;letter-spacing:0px;stroke:#1a1a1a;stroke-width:0.3px" fill="#1a1a1a">7</text>
<text x="165.8" y="50.2" style="font-family:'Liberation Mono',monospace;font-size:19px;letter-spacing:0px;stroke:#1a1a1a;stroke-width:0.3px" fill="#1a1a1a">1*</text>
<text x="165.1" y="142.7" style="font-family:'Liberation Mono',monospace;font-size:19px;letter-spacing:0px;stroke:#1a1a1a;stroke-width:0.3px" fill="#1a1a1a">13</text>
<text x="202.0" y="50.7" style="font-family:'Liberation Mono',monospace;font-size:19px;letter-spacing:0px;stroke:#1a1a1a;stroke-width:0.3px" fill="#1a1a1a">12</text>
<text x="324.1" y="50.7" style="font-family:'Liberation Mono',monospace;font-size:19px;letter-spacing:0px;stroke:#1a1a1a;stroke-width:0.3px" fill="#1a1a1a">5*</text>
<text x="321.5" y="143.7" style="font-family:'Liberation Mono',monospace;font-size:19px;letter-spacing:0px;stroke:#1a1a1a;stroke-width:0.3px" fill="#1a1a1a">25</text>
<text x="361.1" y="50.7" style="font-family:'Liberation Mono',monospace;font-size:19px;letter-spacing:0px;stroke:#1a1a1a;stroke-width:0.3px" fill="#1a1a1a">7</text>
<text x="493.2" y="50.7" style="font-family:'Liberation Mono',monospace;font-size:19px;letter-spacing:0px;stroke:#1a1a1a;stroke-width:0.3px" fill="#1a1a1a">1</text>
<text x="484.0" y="144.0" style="font-family:'Liberation Mono',monospace;font-size:19px;letter-spacing:0px;stroke:#1a1a1a;stroke-width:0.3px" fill="#1a1a1a">21</text>
<text x="46.5" y="191.9" style="font-family:'Liberation Mono',monospace;font-size:16px;letter-spacing:1.8px;stroke:#1a1a1a;stroke-width:0.3px" fill="#1a1a1a">0.5</text>
<text x="144.5" y="191.9" style="font-family:'Liberation Mono',monospace;font-size:16px;letter-spacing:1.8px;stroke:#1a1a1a;stroke-width:0.3px" fill="#1a1a1a">0.4*</text>
<text x="158.4" y="243.0" style="font-family:'Liberation Mono',monospace;font-size:16px;letter-spacing:1.8px;stroke:#1a1a1a;stroke-width:0.3px" fill="#1a1a1a">G1</text>
<text x="161.0" y="301.1" style="font-family:'Liberation Mono',monospace;font-size:16px;letter-spacing:1.8px;stroke:#1a1a1a;stroke-width:0.3px" fill="#1a1a1a">40</text>
<text x="207.0" y="192.2" style="font-family:'Liberation Mono',monospace;font-size:16px;letter-spacing:1.8px;stroke:#1a1a1a;stroke-width:0.3px" fill="#1a1a1a">3</text>
<text x="324.9" y="192.2" style="font-family:'Liberation Mono',monospace;font-size:16px;letter-spacing:1.8px;stroke:#1a1a1a;stroke-width:0.3px" fill="#1a1a1a">6*</text>
<text x="315.4" y="243.0" style="font-family:'Liberation Mono',monospace;font-size:16px;letter-spacing:1.8px;stroke:#1a1a1a;stroke-width:0.3px" fill="#1a1a1a">G1</text>
<text x="318.0" y="301.1" style="font-family:'Liberation Mono',monospace;font-size:16px;letter-spacing:1.8px;stroke:#1a1a1a;stroke-width:0.3px" fill="#1a1a1a">34</text>
<text x="362.9" y="192.2" style="font-family:'Liberation Mono',monospace;font-size:16px;letter-spacing:1.8px;stroke:#1a1a1a;stroke-width:0.3px" fill="#1a1a1a">1.5</text>
<text x="469.0" y="192.2" style="font-family:'Liberation Mono',monospace;font-size:16px;letter-spacing:1.8px;stroke:#1a1a1a;stroke-width:0.3px" fill="#1a1a1a">1.5</text>
<text x="476.0" y="243.0" style="font-family:'Liberation Mono',monospace;font-size:16px;letter-spacing:1.8px;stroke:#1a1a1a;stroke-width:0.3px" fill="#1a1a1a">G1</text>
<text x="479.0" y="301.1" style="font-family:'Liberation Mono',monospace;font-size:16px;letter-spacing:1.8px;stroke:#1a1a1a;stroke-width:0.3px" fill="#1a1a1a">34</text>
<text x="0.36" y="21.18" style="font-family:'Liberation Sans',Arial,sans-serif;font-size:29.20px;font-weight:bold;stroke:#111;stroke-width:0.7px" fill="#111">A</text>
<text x="80.56" y="19.37" style="font-family:'Liberation Sans',Arial,sans-serif;font-size:21.07px" fill="#111">Na&#239;ve</text>
<text x="242.56" y="18.65" style="font-family:'Liberation Sans',Arial,sans-serif;font-size:21.28px" fill="#111">Day 5</text>
<text x="404.42" y="19.55" style="font-family:'Liberation Sans',Arial,sans-serif;font-size:21.29px" fill="#111">Day 6</text>
<path d="M25.5 44V84M25.5 106V220.5M25.5 243V318.5" stroke="#111" stroke-width="2" fill="none"/>
<path d="M20.5 45.5L25.6 35.5L30.7 45.5Z" fill="#111"/>
<text x="7.10" y="100.03" style="font-family:'Liberation Sans',Arial,sans-serif;font-size:13.39px;font-weight:bold" fill="#111">BM</text>
<text x="12.69" y="237.04" style="font-family:'Liberation Sans',Arial,sans-serif;font-size:13.54px;font-weight:bold" fill="#111">Bld</text>
<text transform="translate(19.00,195.37) rotate(-90)" style="font-family:'Liberation Sans',Arial,sans-serif;font-size:13.26px;font-weight:bold;font-style:italic" fill="#111">2B8 FITC</text>
<path d="M42.5 336.5H504" stroke="#111" stroke-width="2" fill="none"/>
<path d="M502.7 331.9L511.5 336.8L502.7 341.7Z" fill="#111"/>
<text x="264.18" y="351.50" style="font-family:'Liberation Sans',Arial,sans-serif;font-size:13.28px;font-weight:bold" fill="#111"><tspan style="font-style:italic">&#946;</tspan>7-PE</text>
<text x="-0.21" y="394.98" style="font-family:'Liberation Sans',Arial,sans-serif;font-size:29.33px;font-weight:bold;stroke:#111;stroke-width:0.5px" fill="#111">B</text>
<rect x="3.5" y="403.2" width="252.5" height="75.8" fill="none" stroke="#999" stroke-width="1" stroke-dasharray="2 1"/>
<text x="4.5" y="487" text-anchor="middle" style="font-family:'Liberation Sans',Arial,sans-serif;font-size:6.5px;font-weight:bold" fill="#333">0</text>
<text x="53.7" y="487" text-anchor="middle" style="font-family:'Liberation Sans',Arial,sans-serif;font-size:6.5px;font-weight:bold" fill="#333">200</text>
<text x="102.9" y="487" text-anchor="middle" style="font-family:'Liberation Sans',Arial,sans-serif;font-size:6.5px;font-weight:bold" fill="#333">400</text>
<text x="152.2" y="487" text-anchor="middle" style="font-family:'Liberation Sans',Arial,sans-serif;font-size:6.5px;font-weight:bold" fill="#333">600</text>
<text x="201.4" y="487" text-anchor="middle" style="font-family:'Liberation Sans',Arial,sans-serif;font-size:6.5px;font-weight:bold" fill="#333">800</text>
<text x="250.6" y="487" text-anchor="middle" style="font-family:'Liberation Sans',Arial,sans-serif;font-size:6.5px;font-weight:bold" fill="#333">1000</text>
<text x="244.67" y="424.26" text-anchor="end" style="font-family:'Liberation Sans',Arial,sans-serif;font-size:13.90px;font-weight:bold" fill="#111">Blood G1</text>
<rect x="263.9" y="403" width="250.9" height="75.6" fill="none" stroke="#999" stroke-width="1" stroke-dasharray="2 1"/>
<text x="264.4" y="487" text-anchor="middle" style="font-family:'Liberation Sans',Arial,sans-serif;font-size:6.5px;font-weight:bold" fill="#333">0</text>
<text x="313.6" y="487" text-anchor="middle" style="font-family:'Liberation Sans',Arial,sans-serif;font-size:6.5px;font-weight:bold" fill="#333">200</text>
<text x="362.8" y="487" text-anchor="middle" style="font-family:'Liberation Sans',Arial,sans-serif;font-size:6.5px;font-weight:bold" fill="#333">400</text>
<text x="412.0" y="487" text-anchor="middle" style="font-family:'Liberation Sans',Arial,sans-serif;font-size:6.5px;font-weight:bold" fill="#333">600</text>
<text x="461.2" y="487" text-anchor="middle" style="font-family:'Liberation Sans',Arial,sans-serif;font-size:6.5px;font-weight:bold" fill="#333">800</text>
<text x="510.4" y="487" text-anchor="middle" style="font-family:'Liberation Sans',Arial,sans-serif;font-size:6.5px;font-weight:bold" fill="#333">1000</text>
<text x="504.99" y="424.89" text-anchor="end" style="font-family:'Liberation Sans',Arial,sans-serif;font-size:13.86px;font-weight:bold" fill="#111">Bone Marrow G1</text>
<path d="M81 478.5h3v-9.9h-3zM88 478.5h3v-9.9h-3zM101 478.5h3v-9.9h-3zM111 478.5h3v-9.9h-3zM119 478.5h3v-9.9h-3zM128 478.5h3v-9.9h-3zM131 478.5h3v-9.9h-3zM134 478.5h3v-9.9h-3zM137 478.5h3v-9.9h-3zM140 478.5h3v-9.9h-3zM143 478.5h3v-19.8h-3zM146 478.5h3v-19.8h-3zM149 478.5h3v-9.9h-3zM152 478.5h3v-9.9h-3zM153 478.5h3v-39.6h-3zM155 478.5h3v-9.9h-3zM156 478.5h3v-29.7h-3zM158 478.5h3v-9.9h-3zM159 478.5h3v-19.8h-3zM160 478.5h3v-29.7h-3zM161 478.5h3v-9.9h-3zM162 478.5h3v-29.7h-3zM164 478.5h3v-9.9h-3zM165 478.5h3v-29.7h-3zM167 478.5h3v-19.8h-3zM170 478.5h3v-29.7h-3zM171 478.5h3v-29.7h-3zM173 478.5h3v-29.7h-3zM174 478.5h3v-19.8h-3zM176 478.5h3v-9.9h-3zM177 478.5h3v-29.7h-3zM179 478.5h3v-9.9h-3zM180 478.5h3v-39.6h-3zM182 478.5h3v-9.9h-3zM183 478.5h3v-19.8h-3zM185 478.5h3v-9.9h-3zM186 478.5h3v-19.8h-3zM188 478.5h3v-9.9h-3zM189 478.5h3v-29.7h-3zM192 478.5h3v-19.8h-3zM194 478.5h3v-9.9h-3zM195 478.5h3v-19.8h-3zM196 478.5h3v-29.7h-3zM197 478.5h3v-9.9h-3zM198 478.5h3v-9.9h-3zM200 478.5h3v-9.9h-3zM201 478.5h3v-19.8h-3zM203 478.5h3v-9.9h-3zM204 478.5h3v-9.9h-3zM206 478.5h3v-9.9h-3zM209 478.5h3v-9.9h-3zM212 478.5h3v-9.9h-3zM215 478.5h3v-9.9h-3zM218 478.5h3v-9.9h-3zM221 478.5h3v-9.9h-3zM224 478.5h3v-9.9h-3zM227 478.5h3v-19.8h-3zM230 478.5h3v-9.9h-3zM233 478.5h3v-9.9h-3zM236 478.5h3v-9.9h-3zM239 478.5h3v-9.9h-3zM242 478.5h3v-9.9h-3zM245 478.5h3v-9.9h-3zM248 478.5h3v-19.8h-3z" fill="#b8b8b8"/>
<path d="M81.5 478.5V468.6M88.5 478.5V468.6M101.5 478.5V468.6M111.5 478.5V468.6M119.5 478.5V468.6M128.5 478.5V468.6M131.5 478.5V468.6M134.5 478.5V468.6M137.5 478.5V468.6M140.5 478.5V468.6M143.5 478.5V458.7M146.5 478.5V458.7M149.5 478.5V468.6M152.5 478.5V468.6M153.5 478.5V438.9M155.5 478.5V468.6M156.5 478.5V448.8M158.5 478.5V468.6M159.5 478.5V458.7M160.5 478.5V448.8M161.5 478.5V468.6M162.5 478.5V448.8M164.5 478.5V468.6M165.5 478.5V448.8M167.5 478.5V458.7M170.5 478.5V448.8M171.5 478.5V448.8M173.5 478.5V448.8M174.5 478.5V458.7M176.5 478.5V468.6M177.5 478.5V448.8M179.5 478.5V468.6M180.5 478.5V438.9M182.5 478.5V468.6M183.5 478.5V458.7M185.5 478.5V468.6M186.5 478.5V458.7M188.5 478.5V468.6M189.5 478.5V448.8M192.5 478.5V458.7M194.5 478.5V468.6M195.5 478.5V458.7M196.5 478.5V448.8M197.5 478.5V468.6M198.5 478.5V468.6M200.5 478.5V468.6M201.5 478.5V458.7M203.5 478.5V468.6M204.5 478.5V468.6M206.5 478.5V468.6M209.5 478.5V468.6M212.5 478.5V468.6M215.5 478.5V468.6M218.5 478.5V468.6M221.5 478.5V468.6M224.5 478.5V468.6M227.5 478.5V458.7M230.5 478.5V468.6M233.5 478.5V468.6M236.5 478.5V468.6M239.5 478.5V468.6M242.5 478.5V468.6M245.5 478.5V468.6M248.5 478.5V458.7" stroke="#5a5a5a" stroke-width="1" fill="none"/>
<path d="M3.5 478.5H256" stroke="#444" stroke-width="1.2"/>
<path d="M292 478.3h3v-9.9h-3zM299 478.3h3v-9.9h-3zM312 478.3h3v-9.9h-3zM315 478.3h3v-9.9h-3zM318 478.3h3v-9.9h-3zM321 478.3h3v-9.9h-3zM324 478.3h3v-9.9h-3zM326 478.3h3v-9.9h-3zM332 478.3h3v-9.9h-3zM333 478.3h3v-19.8h-3zM335 478.3h3v-9.9h-3zM338 478.3h3v-9.9h-3zM344 478.3h3v-9.9h-3zM347 478.3h3v-9.9h-3zM349 478.3h3v-19.8h-3zM350 478.3h3v-9.9h-3zM353 478.3h3v-9.9h-3zM356 478.3h3v-9.9h-3zM359 478.3h3v-9.9h-3zM362 478.3h3v-9.9h-3zM364 478.3h3v-29.7h-3zM365 478.3h3v-9.9h-3zM368 478.3h3v-9.9h-3zM371 478.3h3v-9.9h-3zM374 478.3h3v-9.9h-3zM377 478.3h3v-9.9h-3zM380 478.3h3v-19.8h-3zM383 478.3h3v-9.9h-3zM386 478.3h3v-9.9h-3zM389 478.3h3v-9.9h-3zM392 478.3h3v-9.9h-3zM395 478.3h3v-19.8h-3zM398 478.3h3v-19.8h-3zM401 478.3h3v-9.9h-3zM404 478.3h3v-9.9h-3zM405 478.3h3v-29.7h-3zM407 478.3h3v-9.9h-3zM408 478.3h3v-19.8h-3zM410 478.3h3v-39.6h-3zM411 478.3h3v-29.7h-3zM413 478.3h3v-9.9h-3zM414 478.3h3v-19.8h-3zM416 478.3h3v-9.9h-3zM417 478.3h3v-29.7h-3zM419 478.3h3v-49.5h-3zM420 478.3h3v-29.7h-3zM422 478.3h3v-39.6h-3zM423 478.3h3v-29.7h-3zM425 478.3h3v-9.9h-3zM426 478.3h3v-29.7h-3zM427 478.3h3v-49.5h-3zM428 478.3h3v-9.9h-3zM429 478.3h3v-29.7h-3zM430 478.3h3v-49.5h-3zM431 478.3h3v-9.9h-3zM432 478.3h3v-19.8h-3zM434 478.3h3v-9.9h-3zM435 478.3h3v-39.6h-3zM437 478.3h3v-9.9h-3zM438 478.3h3v-19.8h-3zM440 478.3h3v-9.9h-3zM441 478.3h3v-19.8h-3zM442 478.3h3v-39.6h-3zM443 478.3h3v-9.9h-3zM444 478.3h3v-19.8h-3zM446 478.3h3v-9.9h-3zM447 478.3h3v-29.7h-3zM450 478.3h3v-19.8h-3zM452 478.3h3v-9.9h-3zM453 478.3h3v-29.7h-3zM455 478.3h3v-39.6h-3zM456 478.3h3v-29.7h-3zM458 478.3h3v-29.7h-3zM459 478.3h3v-19.8h-3zM462 478.3h3v-19.8h-3zM464 478.3h3v-9.9h-3zM465 478.3h3v-29.7h-3zM468 478.3h3v-29.7h-3zM470 478.3h3v-9.9h-3zM473 478.3h3v-19.8h-3zM476 478.3h3v-29.7h-3zM479 478.3h3v-19.8h-3zM482 478.3h3v-9.9h-3zM485 478.3h3v-9.9h-3zM488 478.3h3v-9.9h-3zM491 478.3h3v-9.9h-3zM494 478.3h3v-9.9h-3zM495 478.3h3v-29.7h-3zM497 478.3h3v-9.9h-3zM498 478.3h3v-9.9h-3zM500 478.3h3v-9.9h-3zM501 478.3h3v-19.8h-3zM503 478.3h3v-9.9h-3zM504 478.3h3v-9.9h-3zM506 478.3h3v-9.9h-3zM507 478.3h3v-9.9h-3zM509 478.3h3v-9.9h-3z" fill="#b8b8b8"/>
<path d="M292.5 478.3V468.4M299.5 478.3V468.4M312.5 478.3V468.4M315.5 478.3V468.4M318.5 478.3V468.4M321.5 478.3V468.4M324.5 478.3V468.4M326.5 478.3V468.4M332.5 478.3V468.4M333.5 478.3V458.5M335.5 478.3V468.4M338.5 478.3V468.4M344.5 478.3V468.4M347.5 478.3V468.4M349.5 478.3V458.5M350.5 478.3V468.4M353.5 478.3V468.4M356.5 478.3V468.4M359.5 478.3V468.4M362.5 478.3V468.4M364.5 478.3V448.6M365.5 478.3V468.4M368.5 478.3V468.4M371.5 478.3V468.4M374.5 478.3V468.4M377.5 478.3V468.4M380.5 478.3V458.5M383.5 478.3V468.4M386.5 478.3V468.4M389.5 478.3V468.4M392.5 478.3V468.4M395.5 478.3V458.5M398.5 478.3V458.5M401.5 478.3V468.4M404.5 478.3V468.4M405.5 478.3V448.6M407.5 478.3V468.4M408.5 478.3V458.5M410.5 478.3V438.7M411.5 478.3V448.6M413.5 478.3V468.4M414.5 478.3V458.5M416.5 478.3V468.4M417.5 478.3V448.6M419.5 478.3V428.8M420.5 478.3V448.6M422.5 478.3V438.7M423.5 478.3V448.6M425.5 478.3V468.4M426.5 478.3V448.6M427.5 478.3V428.8M428.5 478.3V468.4M429.5 478.3V448.6M430.5 478.3V428.8M431.5 478.3V468.4M432.5 478.3V458.5M434.5 478.3V468.4M435.5 478.3V438.7M437.5 478.3V468.4M438.5 478.3V458.5M440.5 478.3V468.4M441.5 478.3V458.5M442.5 478.3V438.7M443.5 478.3V468.4M444.5 478.3V458.5M446.5 478.3V468.4M447.5 478.3V448.6M450.5 478.3V458.5M452.5 478.3V468.4M453.5 478.3V448.6M455.5 478.3V438.7M456.5 478.3V448.6M458.5 478.3V448.6M459.5 478.3V458.5M462.5 478.3V458.5M464.5 478.3V468.4M465.5 478.3V448.6M468.5 478.3V448.6M470.5 478.3V468.4M473.5 478.3V458.5M476.5 478.3V448.6M479.5 478.3V458.5M482.5 478.3V468.4M485.5 478.3V468.4M488.5 478.3V468.4M491.5 478.3V468.4M494.5 478.3V468.4M495.5 478.3V448.6M497.5 478.3V468.4M498.5 478.3V468.4M500.5 478.3V468.4M501.5 478.3V458.5M503.5 478.3V468.4M504.5 478.3V468.4M506.5 478.3V468.4M507.5 478.3V468.4M509.5 478.3V468.4" stroke="#5a5a5a" stroke-width="1" fill="none"/>
<path d="M263.9 478.3H514.8" stroke="#444" stroke-width="1.2"/>
<path d="M0 499.5H241M282 499.5H503" stroke="#111" stroke-width="2.4" fill="none"/>
<path d="M502.3 495.2L512.2 499.9L502.3 504.6Z" fill="#111"/>
<text x="245.83" y="509.96" style="font-family:'Liberation Sans',Arial,sans-serif;font-size:15.38px;font-weight:bold" fill="#111">FSC</text>
<text x="42.95" y="553.52" style="font-family:'Liberation Sans',Arial,sans-serif;font-size:28.70px;font-weight:bold;stroke:#111;stroke-width:0.3px" fill="#111">C</text>
<defs><pattern id="hat" width="2" height="2" patternUnits="userSpaceOnUse" patternTransform="rotate(45)"><rect width="2" height="2" fill="#7c7c7c"/><rect width="1.05" height="2" fill="#222"/></pattern></defs>
<rect x="165.5" y="698.958" width="23.5" height="32.8" fill="url(#hat)" stroke="#1a1a1a" stroke-width="2"/>
<path d="M177.25 685.67V710.63M170.25 685.67H184.25M170.25 710.63H184.25" stroke="#111" stroke-width="2.4" fill="none"/>
<rect x="225.2" y="583.758" width="25.7" height="148.0" fill="url(#hat)" stroke="#1a1a1a" stroke-width="2"/>
<path d="M238.05 578.918V587.75M231.05 578.918H245.05M231.05 587.75H245.05" stroke="#111" stroke-width="2.4" fill="none"/>
<rect x="287.4" y="720.078" width="23.3" height="11.7" fill="url(#hat)" stroke="#1a1a1a" stroke-width="2"/>
<path d="M299.04999999999995 716.006V722.15M292.04999999999995 716.006H306.04999999999995M292.04999999999995 722.15H306.04999999999995" stroke="#111" stroke-width="2.4" fill="none"/>
<rect x="345.5" y="708.558" width="25.8" height="23.2" fill="url(#hat)" stroke="#1a1a1a" stroke-width="2"/>
<path d="M358.4 700.262V713.318M351.4 700.262H365.4M351.4 713.318H365.4" stroke="#111" stroke-width="2.4" fill="none"/>
<path d="M147 539.8V735.5M143 731.8H389.5M389.3 541V736" stroke="#111" stroke-width="1.4" fill="none"/>
<path d="M143.5 731.8H147" stroke="#111" stroke-width="1.5"/>
<text x="135.31" y="736.32" text-anchor="end" style="font-family:'Liberation Sans',Arial,sans-serif;font-size:15.60px;font-weight:bold" fill="#111">0</text>
<path d="M143.5 693.4H147" stroke="#111" stroke-width="1.5"/>
<text x="135.31" y="698.33" text-anchor="end" style="font-family:'Liberation Sans',Arial,sans-serif;font-size:15.60px;font-weight:bold" fill="#111">100</text>
<path d="M143.5 655.0H147" stroke="#111" stroke-width="1.5"/>
<text x="135.13" y="659.66" text-anchor="end" style="font-family:'Liberation Sans',Arial,sans-serif;font-size:15.60px;font-weight:bold" fill="#111">200</text>
<path d="M143.5 616.5H147" stroke="#111" stroke-width="1.5"/>
<text x="135.13" y="621.61" text-anchor="end" style="font-family:'Liberation Sans',Arial,sans-serif;font-size:15.60px;font-weight:bold" fill="#111">300</text>
<path d="M143.5 578.1H147" stroke="#111" stroke-width="1.5"/>
<text x="135.13" y="583.58" text-anchor="end" style="font-family:'Liberation Sans',Arial,sans-serif;font-size:15.60px;font-weight:bold" fill="#111">400</text>
<path d="M143.5 539.8H147" stroke="#111" stroke-width="1.5"/>
<text x="135.76" y="544.41" text-anchor="end" style="font-family:'Liberation Sans',Arial,sans-serif;font-size:15.60px;font-weight:bold" fill="#111">500</text>
<path d="M385.5 732.5H393" stroke="#111" stroke-width="1.5"/>
<text x="400.58" y="736.69" style="font-family:'Liberation Sans',Arial,sans-serif;font-size:15.20px" fill="#111">0</text>
<path d="M385.5 700.6H393" stroke="#111" stroke-width="1.5"/>
<text x="399.68" y="704.70" style="font-family:'Liberation Sans',Arial,sans-serif;font-size:15.20px" fill="#111">2</text>
<path d="M385.5 668.7H393" stroke="#111" stroke-width="1.5"/>
<text x="400.58" y="672.71" style="font-family:'Liberation Sans',Arial,sans-serif;font-size:15.20px" fill="#111">4</text>
<path d="M385.5 636.8H393" stroke="#111" stroke-width="1.5"/>
<text x="399.68" y="641.62" style="font-family:'Liberation Sans',Arial,sans-serif;font-size:15.20px" fill="#111">6</text>
<path d="M385.5 604.9H393" stroke="#111" stroke-width="1.5"/>
<text x="399.95" y="608.55" style="font-family:'Liberation Sans',Arial,sans-serif;font-size:15.20px" fill="#111">8</text>
<path d="M385.5 573.0H393" stroke="#111" stroke-width="1.5"/>
<text x="400.22" y="577.10" style="font-family:'Liberation Sans',Arial,sans-serif;font-size:15.20px" fill="#111">10</text>
<path d="M385.5 541.1H393" stroke="#111" stroke-width="1.5"/>
<text x="400.49" y="545.47" style="font-family:'Liberation Sans',Arial,sans-serif;font-size:15.20px" fill="#111">12</text>
<path d="M207.2 731.8V737" stroke="#111" stroke-width="1.5"/>
<path d="M268.8 731.8V737" stroke="#111" stroke-width="1.5"/>
<path d="M329.3 731.8V737" stroke="#111" stroke-width="1.5"/>
<path d="M177 729 L235.4 721 L298 690.7 L358.3 580.2" stroke="#111" stroke-width="2.6" fill="none"/>
<rect x="171" y="723" width="12" height="12" fill="#111"/>
<rect x="229.4" y="715" width="12" height="12" fill="#111"/>
<path d="M298 678V704.4M291 678H306M291 704.4H306" stroke="#111" stroke-width="2.4" fill="none"/>
<rect x="292" y="684.7" width="12" height="12" fill="#111"/>
<path d="M358.3 563.8V596.6M351.3 563.8H366.3M351.3 596.6H366.3" stroke="#111" stroke-width="2.4" fill="none"/>
<rect x="352.3" y="574.2" width="12" height="12" fill="#111"/>
<text x="168.41" y="758.45" style="font-family:'Liberation Sans',Arial,sans-serif;font-size:14.70px;font-weight:bold" fill="#111">D4</text>
<text x="226.78" y="757.82" style="font-family:'Liberation Sans',Arial,sans-serif;font-size:14.70px;font-weight:bold" fill="#111">D5</text>
<text x="288.92" y="757.82" style="font-family:'Liberation Sans',Arial,sans-serif;font-size:14.70px;font-weight:bold" fill="#111">D6</text>
<text x="348.15" y="757.82" style="font-family:'Liberation Sans',Arial,sans-serif;font-size:14.70px;font-weight:bold" fill="#111">D8</text>
<text x="177.60" y="786.70" style="font-family:'Liberation Sans',Arial,sans-serif;font-size:21.71px" fill="#111">Days after infection</text>
<text transform="translate(59.98,705.34) rotate(-90)" style="font-family:'Liberation Sans',Arial,sans-serif;font-size:22.31px" fill="#111">ckit/&#946;7 cells in</text>
<text transform="translate(88.82,683.49) rotate(-90)" style="font-family:'Liberation Sans',Arial,sans-serif;font-size:21.89px" fill="#111">blood (%)</text>
<text transform="translate(438.92,718.49) rotate(-90)" style="font-family:'Liberation Sans',Arial,sans-serif;font-size:22.42px" fill="#111">mast cells/20 vcu</text>
</svg></body></html>
